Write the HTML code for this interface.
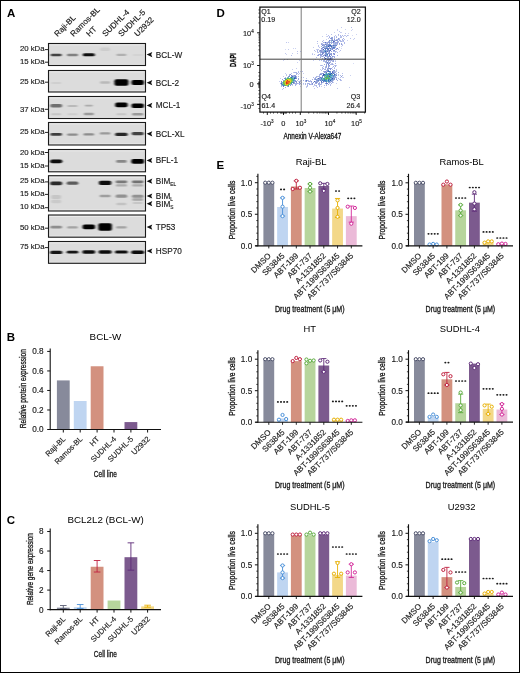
<!DOCTYPE html>
<html><head><meta charset="utf-8"><style>
html,body{margin:0;padding:0;background:#fff;}
body{width:520px;height:673px;overflow:hidden;font-family:"Liberation Sans", sans-serif;}
svg{display:block;will-change:transform;}
svg text{stroke:#1a1a1a;stroke-width:0.15px;}
svg text.t{stroke:none;}
svg text.c{stroke-width:0.32px;}
</style></head><body>
<svg width="520" height="673" viewBox="0 0 520 673" font-family='"Liberation Sans", sans-serif'>
<rect x="0" y="0" width="520" height="673" fill="#fff"/>
<defs><filter id="bb" x="-50%" y="-100%" width="200%" height="300%"><feGaussianBlur stdDeviation="0.9 0.7"/></filter><clipPath id="bc"><rect x="48.5" y="40" width="97" height="230"/></clipPath></defs>
<rect x="48.5" y="43.5" width="97" height="22" fill="#dcdcdc"/>
<rect x="49.3" y="44.3" width="95.4" height="1" fill="#efefef"/>
<rect x="49.3" y="63.9" width="95.4" height="0.8" fill="#e8e8e8"/>
<g filter="url(#bb)">
<rect x="50.7" y="53.7" width="11" height="2.6" rx="1.3" fill="#424242"/>
<rect x="67" y="53.8" width="11" height="2.4" rx="1.2" fill="#808080"/>
<rect x="82.8" y="53.3" width="12" height="3" rx="1.5" fill="#0b0b0b"/>
<rect x="100.1" y="47.55" width="10" height="3.5" rx="1.75" fill="#cdcdcd"/>
<rect x="116.4" y="53.7" width="10" height="2.2" rx="1.1" fill="#b0b0b0"/>
<rect x="132.7" y="54" width="10" height="2" rx="1" fill="#d3d3d3"/>
</g>
<rect x="48.5" y="43.5" width="97" height="22" fill="none" stroke="#1a1a1a" stroke-width="1.1"/>
<line x1="44.8" y1="49.6" x2="48.5" y2="49.6" stroke="#222" stroke-width="1"/>
<text x="44.6" y="50.7" font-size="7.8" text-anchor="end" fill="#1a1a1a">20 kDa</text>
<line x1="44.8" y1="62.2" x2="48.5" y2="62.2" stroke="#222" stroke-width="1"/>
<text x="44.6" y="64.2" font-size="7.8" text-anchor="end" fill="#1a1a1a">15 kDa</text>
<path d="M146.6 54.6 L152.3 52 L151.2 54.6 L152.3 57.2 Z" fill="#111"/>
<text x="155.8" y="57.5" font-size="8.2" fill="#222">BCL-W</text>
<rect x="48.5" y="70.5" width="97" height="21.5" fill="#dcdcdc"/>
<rect x="49.3" y="71.3" width="95.4" height="1" fill="#efefef"/>
<rect x="49.3" y="90.4" width="95.4" height="0.8" fill="#e8e8e8"/>
<g filter="url(#bb)">
<rect x="51.2" y="82" width="10" height="2" rx="1" fill="#cfcfcf"/>
<rect x="100.1" y="81.3" width="10" height="2.4" rx="1.2" fill="#b9b9b9"/>
<rect x="114.4" y="79.15" width="14" height="6.5" rx="2" fill="#000000"/>
<rect x="131.45" y="80" width="12.5" height="5" rx="2" fill="#040404"/>
</g>
<rect x="48.5" y="70.5" width="97" height="21.5" fill="none" stroke="#1a1a1a" stroke-width="1.1"/>
<line x1="44.8" y1="82.2" x2="48.5" y2="82.2" stroke="#222" stroke-width="1"/>
<text x="44.6" y="84.2" font-size="7.8" text-anchor="end" fill="#1a1a1a">25 kDa</text>
<path d="M146.6 82.7 L152.3 80.1 L151.2 82.7 L152.3 85.3 Z" fill="#111"/>
<text x="155.8" y="85.6" font-size="8.2" fill="#222">BCL-2</text>
<rect x="48.5" y="96.5" width="97" height="22" fill="#dcdcdc"/>
<rect x="49.3" y="97.3" width="95.4" height="1" fill="#efefef"/>
<rect x="49.3" y="116.9" width="95.4" height="0.8" fill="#e8e8e8"/>
<g filter="url(#bb)">
<rect x="50.2" y="104" width="12" height="3.6" rx="1.8" fill="#6e6e6e"/>
<rect x="67.5" y="104.9" width="10" height="2.2" rx="1.1" fill="#b9b9b9"/>
<rect x="84.8" y="104.7" width="8" height="1.8" rx="0.9" fill="#acacac"/>
<rect x="115.15" y="102.6" width="12.5" height="4.6" rx="2" fill="#040404"/>
<rect x="131.45" y="103.4" width="12.5" height="4.6" rx="2" fill="#040404"/>
<rect x="51.2" y="113.2" width="10" height="2" rx="1" fill="#c6c6c6"/>
<rect x="67.5" y="113.2" width="10" height="2" rx="1" fill="#cdcdcd"/>
<rect x="83.8" y="112.8" width="10" height="2.4" rx="1.2" fill="#9a9a9a"/>
<rect x="116.4" y="113.2" width="10" height="2" rx="1" fill="#c6c6c6"/>
<rect x="132.2" y="113" width="11" height="2.4" rx="1.2" fill="#9a9a9a"/>
</g>
<rect x="48.5" y="96.5" width="97" height="22" fill="none" stroke="#1a1a1a" stroke-width="1.1"/>
<line x1="44.8" y1="109.3" x2="48.5" y2="109.3" stroke="#222" stroke-width="1"/>
<text x="44.6" y="112.2" font-size="7.8" text-anchor="end" fill="#1a1a1a">37 kDa</text>
<path d="M146.6 105.4 L152.3 102.8 L151.2 105.4 L152.3 108 Z" fill="#111"/>
<text x="155.8" y="108.3" font-size="8.2" fill="#222">MCL-1</text>
<rect x="48.5" y="122.5" width="97" height="22.5" fill="#dcdcdc"/>
<rect x="49.3" y="123.3" width="95.4" height="1" fill="#efefef"/>
<rect x="49.3" y="143.4" width="95.4" height="0.8" fill="#e8e8e8"/>
<g filter="url(#bb)">
<rect x="50.45" y="133" width="11.5" height="2.8" rx="1.4" fill="#3e3e3e"/>
<rect x="67.25" y="133.4" width="10.5" height="2.4" rx="1.2" fill="#8d8d8d"/>
<rect x="83.55" y="133.2" width="10.5" height="2.4" rx="1.2" fill="#8d8d8d"/>
<rect x="99.85" y="132.2" width="10.5" height="2.4" rx="1.2" fill="#9a9a9a"/>
<rect x="115.15" y="132.7" width="12.5" height="3.4" rx="1.7" fill="#282828"/>
<rect x="131.7" y="132" width="12" height="3.2" rx="1.6" fill="#424242"/>
</g>
<rect x="48.5" y="122.5" width="97" height="22.5" fill="none" stroke="#1a1a1a" stroke-width="1.1"/>
<line x1="44.8" y1="132.4" x2="48.5" y2="132.4" stroke="#222" stroke-width="1"/>
<text x="44.6" y="134.4" font-size="7.8" text-anchor="end" fill="#1a1a1a">25 kDa</text>
<path d="M146.6 133.8 L152.3 131.2 L151.2 133.8 L152.3 136.4 Z" fill="#111"/>
<text x="155.8" y="136.7" font-size="8.2" fill="#222">BCL-XL</text>
<rect x="48.5" y="149.5" width="97" height="22.3" fill="#dcdcdc"/>
<rect x="49.3" y="150.3" width="95.4" height="1" fill="#efefef"/>
<rect x="49.3" y="170.2" width="95.4" height="0.8" fill="#e8e8e8"/>
<g filter="url(#bb)">
<rect x="50.2" y="159.4" width="12" height="3.8" rx="1.9" fill="#070707"/>
<rect x="116.15" y="160" width="10.5" height="2.8" rx="1.4" fill="#888888"/>
<rect x="131.3" y="158.9" width="12.8" height="4.8" rx="2" fill="#000000"/>
</g>
<rect x="48.5" y="149.5" width="97" height="22.3" fill="none" stroke="#1a1a1a" stroke-width="1.1"/>
<line x1="44.8" y1="152.5" x2="48.5" y2="152.5" stroke="#222" stroke-width="1"/>
<text x="44.6" y="155" font-size="7.8" text-anchor="end" fill="#1a1a1a">20 kDa</text>
<line x1="44.8" y1="166" x2="48.5" y2="166" stroke="#222" stroke-width="1"/>
<text x="44.6" y="168.4" font-size="7.8" text-anchor="end" fill="#1a1a1a">15 kDa</text>
<path d="M146.6 160.4 L152.3 157.8 L151.2 160.4 L152.3 163 Z" fill="#111"/>
<text x="155.8" y="163.3" font-size="8.2" fill="#222">BFL-1</text>
<rect x="48.5" y="175.7" width="97" height="35.3" fill="#dcdcdc"/>
<rect x="49.3" y="176.5" width="95.4" height="1" fill="#efefef"/>
<rect x="49.3" y="209.4" width="95.4" height="0.8" fill="#e8e8e8"/>
<g filter="url(#bb)">
<rect x="50.2" y="181.6" width="12" height="3.6" rx="1.8" fill="#2c2c2c"/>
<rect x="66.75" y="181.6" width="11.5" height="3.2" rx="1.6" fill="#5c5c5c"/>
<rect x="98.85" y="180.7" width="12.5" height="4.2" rx="2" fill="#070707"/>
<rect x="115.65" y="180.4" width="11.5" height="2.8" rx="1.4" fill="#797979"/>
<rect x="131.95" y="180.4" width="11.5" height="2.8" rx="1.4" fill="#727272"/>
<rect x="115.9" y="184.2" width="11" height="2.4" rx="1.2" fill="#acacac"/>
<rect x="132.2" y="184.2" width="11" height="2.4" rx="1.2" fill="#acacac"/>
<rect x="51.2" y="195" width="10" height="4" rx="2" fill="#c6c6c6"/>
<rect x="99.6" y="194.7" width="11" height="2.6" rx="1.3" fill="#9e9e9e"/>
<rect x="115.65" y="194.6" width="11.5" height="3.2" rx="1.6" fill="#919191"/>
<rect x="131.95" y="194.7" width="11.5" height="3" rx="1.5" fill="#919191"/>
<rect x="51.2" y="199.75" width="10" height="3.5" rx="1.75" fill="#cacaca"/>
<rect x="116.4" y="202.8" width="10" height="2.4" rx="1.2" fill="#c2c2c2"/>
<rect x="132.2" y="198.2" width="11" height="2.6" rx="1.3" fill="#a7a7a7"/>
<rect x="132.7" y="202" width="10" height="2" rx="1" fill="#c6c6c6"/>
</g>
<rect x="48.5" y="175.7" width="97" height="35.3" fill="none" stroke="#1a1a1a" stroke-width="1.1"/>
<line x1="44.8" y1="181.9" x2="48.5" y2="181.9" stroke="#222" stroke-width="1"/>
<text x="44.6" y="183.3" font-size="7.8" text-anchor="end" fill="#1a1a1a">25 kDa</text>
<line x1="44.8" y1="194.4" x2="48.5" y2="194.4" stroke="#222" stroke-width="1"/>
<text x="44.6" y="196.3" font-size="7.8" text-anchor="end" fill="#1a1a1a">15 kDa</text>
<line x1="44.8" y1="207.7" x2="48.5" y2="207.7" stroke="#222" stroke-width="1"/>
<text x="44.6" y="209.2" font-size="7.8" text-anchor="end" fill="#1a1a1a">10 kDa</text>
<path d="M146.6 181.2 L152.3 178.6 L151.2 181.2 L152.3 183.8 Z" fill="#111"/>
<text x="155.8" y="184.1" font-size="8.2" fill="#222">BIM<tspan font-size="4.8" dy="2.2">EL</tspan></text>
<path d="M146.6 196 L152.3 193.4 L151.2 196 L152.3 198.6 Z" fill="#111"/>
<text x="155.8" y="198.9" font-size="8.2" fill="#222">BIM<tspan font-size="4.8" dy="2.2">L</tspan></text>
<path d="M146.6 203.7 L152.3 201.1 L151.2 203.7 L152.3 206.3 Z" fill="#111"/>
<text x="155.8" y="206.6" font-size="8.2" fill="#222">BIM<tspan font-size="4.8" dy="2.2">S</tspan></text>
<rect x="48.5" y="215" width="97" height="22.2" fill="#dcdcdc"/>
<rect x="49.3" y="215.8" width="95.4" height="1" fill="#efefef"/>
<rect x="49.3" y="235.6" width="95.4" height="0.8" fill="#e8e8e8"/>
<g filter="url(#bb)">
<rect x="50.45" y="225.8" width="11.5" height="2.8" rx="1.4" fill="#8d8d8d"/>
<rect x="67.25" y="226.2" width="10.5" height="2.4" rx="1.2" fill="#a3a3a3"/>
<rect x="82.55" y="224.5" width="12.5" height="4.8" rx="2" fill="#040404"/>
<rect x="98.35" y="223.2" width="13.5" height="7.6" rx="2" fill="#000000"/>
<rect x="116.15" y="226.3" width="10.5" height="2.2" rx="1.1" fill="#a3a3a3"/>
</g>
<rect x="48.5" y="215" width="97" height="22.2" fill="none" stroke="#1a1a1a" stroke-width="1.1"/>
<line x1="44.8" y1="228.2" x2="48.5" y2="228.2" stroke="#222" stroke-width="1"/>
<text x="44.6" y="229.9" font-size="7.8" text-anchor="end" fill="#1a1a1a">50 kDa</text>
<path d="M146.6 227.1 L152.3 224.5 L151.2 227.1 L152.3 229.7 Z" fill="#111"/>
<text x="155.8" y="230" font-size="8.2" fill="#222">TP53</text>
<rect x="48.5" y="241.5" width="97" height="21.8" fill="#dcdcdc"/>
<rect x="49.3" y="242.3" width="95.4" height="1" fill="#efefef"/>
<rect x="49.3" y="261.7" width="95.4" height="0.8" fill="#e8e8e8"/>
<g filter="url(#bb)">
<rect x="50.2" y="250.8" width="12" height="3.2" rx="1.6" fill="#121212"/>
<rect x="66.75" y="250.8" width="11.5" height="2.8" rx="1.4" fill="#161616"/>
<rect x="82.4" y="250.3" width="12.8" height="3.4" rx="1.7" fill="#0b0b0b"/>
<rect x="98.6" y="250.3" width="13" height="3.4" rx="1.7" fill="#0b0b0b"/>
<rect x="115" y="250.4" width="12.8" height="3.2" rx="1.6" fill="#0f0f0f"/>
<rect x="131.3" y="250.5" width="12.8" height="3.4" rx="1.7" fill="#0b0b0b"/>
</g>
<rect x="48.5" y="241.5" width="97" height="21.8" fill="none" stroke="#1a1a1a" stroke-width="1.1"/>
<line x1="44.8" y1="247.6" x2="48.5" y2="247.6" stroke="#222" stroke-width="1"/>
<text x="44.6" y="249.4" font-size="7.8" text-anchor="end" fill="#1a1a1a">75 kDa</text>
<path d="M146.6 251 L152.3 248.4 L151.2 251 L152.3 253.6 Z" fill="#111"/>
<text x="155.8" y="253.9" font-size="8.2" fill="#222">HSP70</text>
<text transform="translate(57.6 37) rotate(-45)" font-size="8" fill="#1a1a1a">Raji-BL</text>
<text transform="translate(73.6 37) rotate(-45)" font-size="8" fill="#1a1a1a">Ramos-BL</text>
<text transform="translate(89.6 37) rotate(-45)" font-size="8" fill="#1a1a1a">HT</text>
<text transform="translate(105.6 37) rotate(-45)" font-size="8" fill="#1a1a1a">SUDHL-4</text>
<text transform="translate(121.6 37) rotate(-45)" font-size="8" fill="#1a1a1a">SUDHL-5</text>
<text transform="translate(137.6 37) rotate(-45)" font-size="8" fill="#1a1a1a">U2932</text>
<text x="7" y="17" font-size="11.5" font-weight="bold" fill="#000" class="t">A</text>
<text x="6.8" y="340.6" font-size="11.5" font-weight="bold" fill="#000" class="t">B</text>
<text x="6.8" y="524.4" font-size="11.5" font-weight="bold" fill="#000" class="t">C</text>
<text x="216.4" y="16.7" font-size="11.5" font-weight="bold" fill="#000" class="t">D</text>
<text x="216.6" y="168.5" font-size="11.5" font-weight="bold" fill="#000" class="t">E</text>
<rect x="56.9" y="380.41" width="12.8" height="49.09" fill="#878a9b"/>
<rect x="73.8" y="401" width="12.8" height="28.5" fill="#bfd5f1"/>
<rect x="90.7" y="366.26" width="12.8" height="63.24" fill="#d3917f"/>
<rect x="124.5" y="422.08" width="12.8" height="7.42" fill="#7c5a8e"/>
<line x1="50.2" y1="348.5" x2="50.2" y2="430.05" stroke="#111" stroke-width="1.1"/>
<line x1="49.65" y1="429.5" x2="161" y2="429.5" stroke="#111" stroke-width="1.1"/>
<line x1="47.2" y1="351.42" x2="50.2" y2="351.42" stroke="#111" stroke-width="1"/>
<text x="43.6" y="354.32" font-size="8.2" text-anchor="end" fill="#1a1a1a">0.8</text>
<line x1="47.2" y1="370.94" x2="50.2" y2="370.94" stroke="#111" stroke-width="1"/>
<text x="43.6" y="373.84" font-size="8.2" text-anchor="end" fill="#1a1a1a">0.6</text>
<line x1="47.2" y1="390.46" x2="50.2" y2="390.46" stroke="#111" stroke-width="1"/>
<text x="43.6" y="393.36" font-size="8.2" text-anchor="end" fill="#1a1a1a">0.4</text>
<line x1="47.2" y1="409.98" x2="50.2" y2="409.98" stroke="#111" stroke-width="1"/>
<text x="43.6" y="412.88" font-size="8.2" text-anchor="end" fill="#1a1a1a">0.2</text>
<line x1="47.2" y1="429.5" x2="50.2" y2="429.5" stroke="#111" stroke-width="1"/>
<text x="43.6" y="432.4" font-size="8.2" text-anchor="end" fill="#1a1a1a">0.0</text>
<line x1="63.3" y1="429.5" x2="63.3" y2="432.5" stroke="#111" stroke-width="1"/>
<line x1="80.2" y1="429.5" x2="80.2" y2="432.5" stroke="#111" stroke-width="1"/>
<line x1="97.1" y1="429.5" x2="97.1" y2="432.5" stroke="#111" stroke-width="1"/>
<line x1="114" y1="429.5" x2="114" y2="432.5" stroke="#111" stroke-width="1"/>
<line x1="130.9" y1="429.5" x2="130.9" y2="432.5" stroke="#111" stroke-width="1"/>
<line x1="147.6" y1="429.5" x2="147.6" y2="432.5" stroke="#111" stroke-width="1"/>
<text transform="translate(66.1 439.5) rotate(-45)" font-size="7.6" text-anchor="end" fill="#1a1a1a">Raji-BL</text>
<text transform="translate(83 439.5) rotate(-45)" font-size="7.6" text-anchor="end" fill="#1a1a1a">Ramos-BL</text>
<text transform="translate(99.9 439.5) rotate(-45)" font-size="7.6" text-anchor="end" fill="#1a1a1a">HT</text>
<text transform="translate(116.8 439.5) rotate(-45)" font-size="7.6" text-anchor="end" fill="#1a1a1a">SUDHL-4</text>
<text transform="translate(133.7 439.5) rotate(-45)" font-size="7.6" text-anchor="end" fill="#1a1a1a">SUDHL-5</text>
<text transform="translate(150.4 439.5) rotate(-45)" font-size="7.6" text-anchor="end" fill="#1a1a1a">U2932</text>
<text x="105.4" y="339.6" font-size="9.8" text-anchor="middle" class="t">BCL-W</text>
<text transform="translate(26.1 388.7) rotate(-90)" font-size="8.6" text-anchor="middle" fill="#1a1a1a" textLength="79" lengthAdjust="spacingAndGlyphs" class="c">Relative protein expression</text>
<text x="105.4" y="477" font-size="8.6" text-anchor="middle" fill="#1a1a1a" textLength="23.2" lengthAdjust="spacingAndGlyphs" class="c">Cell line</text>
<rect x="56.9" y="607.65" width="12.8" height="1.95" fill="#878a9b"/>
<rect x="73.8" y="607.26" width="12.8" height="2.34" fill="#bfd5f1"/>
<rect x="90.7" y="566.75" width="12.8" height="42.85" fill="#d3917f"/>
<rect x="107.6" y="600.52" width="12.8" height="9.08" fill="#b7d59c"/>
<rect x="124.5" y="557.19" width="12.8" height="52.41" fill="#7c5a8e"/>
<rect x="141.2" y="606.38" width="12.8" height="3.22" fill="#f3d888"/>
<line x1="63.3" y1="605.5" x2="63.3" y2="608.62" stroke="#5b5f75" stroke-width="0.9"/>
<line x1="60" y1="605.5" x2="66.6" y2="605.5" stroke="#5b5f75" stroke-width="0.9"/>
<line x1="60" y1="608.62" x2="66.6" y2="608.62" stroke="#5b5f75" stroke-width="0.9"/>
<line x1="80.2" y1="604.52" x2="80.2" y2="608.43" stroke="#4a90d9" stroke-width="0.9"/>
<line x1="76.9" y1="604.52" x2="83.5" y2="604.52" stroke="#4a90d9" stroke-width="0.9"/>
<line x1="76.9" y1="608.43" x2="83.5" y2="608.43" stroke="#4a90d9" stroke-width="0.9"/>
<line x1="97.1" y1="560.51" x2="97.1" y2="572.02" stroke="#c0203f" stroke-width="0.9"/>
<line x1="93.8" y1="560.51" x2="100.4" y2="560.51" stroke="#c0203f" stroke-width="0.9"/>
<line x1="93.8" y1="572.02" x2="100.4" y2="572.02" stroke="#c0203f" stroke-width="0.9"/>
<line x1="130.9" y1="542.84" x2="130.9" y2="570.17" stroke="#5e2a78" stroke-width="0.9"/>
<line x1="127.6" y1="542.84" x2="134.2" y2="542.84" stroke="#5e2a78" stroke-width="0.9"/>
<line x1="127.6" y1="570.17" x2="134.2" y2="570.17" stroke="#5e2a78" stroke-width="0.9"/>
<line x1="147.6" y1="605.21" x2="147.6" y2="607.16" stroke="#e8b000" stroke-width="0.9"/>
<line x1="144.3" y1="605.21" x2="150.9" y2="605.21" stroke="#e8b000" stroke-width="0.9"/>
<line x1="144.3" y1="607.16" x2="150.9" y2="607.16" stroke="#e8b000" stroke-width="0.9"/>
<line x1="50.2" y1="528.5" x2="50.2" y2="610.15" stroke="#111" stroke-width="1.1"/>
<line x1="49.65" y1="609.6" x2="161" y2="609.6" stroke="#111" stroke-width="1.1"/>
<line x1="47.2" y1="531.52" x2="50.2" y2="531.52" stroke="#111" stroke-width="1"/>
<text x="43.6" y="534.42" font-size="8.2" text-anchor="end" fill="#1a1a1a">8</text>
<line x1="47.2" y1="551.04" x2="50.2" y2="551.04" stroke="#111" stroke-width="1"/>
<text x="43.6" y="553.94" font-size="8.2" text-anchor="end" fill="#1a1a1a">6</text>
<line x1="47.2" y1="570.56" x2="50.2" y2="570.56" stroke="#111" stroke-width="1"/>
<text x="43.6" y="573.46" font-size="8.2" text-anchor="end" fill="#1a1a1a">4</text>
<line x1="47.2" y1="590.08" x2="50.2" y2="590.08" stroke="#111" stroke-width="1"/>
<text x="43.6" y="592.98" font-size="8.2" text-anchor="end" fill="#1a1a1a">2</text>
<line x1="47.2" y1="609.6" x2="50.2" y2="609.6" stroke="#111" stroke-width="1"/>
<text x="43.6" y="612.5" font-size="8.2" text-anchor="end" fill="#1a1a1a">0</text>
<line x1="63.3" y1="609.6" x2="63.3" y2="612.6" stroke="#111" stroke-width="1"/>
<line x1="80.2" y1="609.6" x2="80.2" y2="612.6" stroke="#111" stroke-width="1"/>
<line x1="97.1" y1="609.6" x2="97.1" y2="612.6" stroke="#111" stroke-width="1"/>
<line x1="114" y1="609.6" x2="114" y2="612.6" stroke="#111" stroke-width="1"/>
<line x1="130.9" y1="609.6" x2="130.9" y2="612.6" stroke="#111" stroke-width="1"/>
<line x1="147.6" y1="609.6" x2="147.6" y2="612.6" stroke="#111" stroke-width="1"/>
<text transform="translate(66.1 619.6) rotate(-45)" font-size="7.6" text-anchor="end" fill="#1a1a1a">Raji-BL</text>
<text transform="translate(83 619.6) rotate(-45)" font-size="7.6" text-anchor="end" fill="#1a1a1a">Ramos-BL</text>
<text transform="translate(99.9 619.6) rotate(-45)" font-size="7.6" text-anchor="end" fill="#1a1a1a">HT</text>
<text transform="translate(116.8 619.6) rotate(-45)" font-size="7.6" text-anchor="end" fill="#1a1a1a">SUDHL-4</text>
<text transform="translate(133.7 619.6) rotate(-45)" font-size="7.6" text-anchor="end" fill="#1a1a1a">SUDHL-5</text>
<text transform="translate(150.4 619.6) rotate(-45)" font-size="7.6" text-anchor="end" fill="#1a1a1a">U2932</text>
<text x="105.6" y="523.3" font-size="9.8" text-anchor="middle" class="t">BCL2L2 (BCL-W)</text>
<text transform="translate(32.7 569.1) rotate(-90)" font-size="8.6" text-anchor="middle" fill="#1a1a1a" textLength="72" lengthAdjust="spacingAndGlyphs" class="c">Relative gene expression</text>
<text x="105.4" y="657" font-size="8.6" text-anchor="middle" fill="#1a1a1a" textLength="23.2" lengthAdjust="spacingAndGlyphs" class="c">Cell line</text>
<rect x="263.4" y="182.7" width="10.8" height="63.1" fill="#878a9b"/>
<rect x="277.15" y="206.99" width="10.8" height="38.81" fill="#bfd5f1"/>
<rect x="290.9" y="186.49" width="10.8" height="59.31" fill="#d3917f"/>
<rect x="304.65" y="188" width="10.8" height="57.8" fill="#b7d59c"/>
<rect x="318.4" y="185.98" width="10.8" height="59.82" fill="#7c5a8e"/>
<rect x="332.15" y="208.57" width="10.8" height="37.23" fill="#f3d888"/>
<rect x="345.9" y="216.14" width="10.8" height="29.66" fill="#ebbad8"/>
<circle cx="265.2" cy="182.7" r="1.6" fill="#fff" stroke="#4b4f69" stroke-width="1.0"/>
<circle cx="268.8" cy="182.7" r="1.6" fill="#fff" stroke="#4b4f69" stroke-width="1.0"/>
<circle cx="272.4" cy="182.7" r="1.6" fill="#fff" stroke="#4b4f69" stroke-width="1.0"/>
<line x1="282.55" y1="197.84" x2="282.55" y2="216.14" stroke="#4a90d9" stroke-width="0.9"/>
<line x1="279.95" y1="197.84" x2="285.15" y2="197.84" stroke="#4a90d9" stroke-width="0.9"/>
<line x1="279.95" y1="216.14" x2="285.15" y2="216.14" stroke="#4a90d9" stroke-width="0.9"/>
<circle cx="282.55" cy="197.84" r="1.6" fill="#fff" stroke="#4a90d9" stroke-width="1.0"/>
<circle cx="282.55" cy="206.68" r="1.6" fill="#fff" stroke="#4a90d9" stroke-width="1.0"/>
<circle cx="282.55" cy="216.14" r="1.6" fill="#fff" stroke="#4a90d9" stroke-width="1.0"/>
<ellipse cx="281" cy="189.4" rx="1.05" ry="0.85" fill="#1a1a1a"/>
<ellipse cx="284.1" cy="189.4" rx="1.05" ry="0.85" fill="#1a1a1a"/>
<line x1="296.3" y1="180.81" x2="296.3" y2="189.01" stroke="#c0203f" stroke-width="0.9"/>
<line x1="293.7" y1="180.81" x2="298.9" y2="180.81" stroke="#c0203f" stroke-width="0.9"/>
<line x1="293.7" y1="189.01" x2="298.9" y2="189.01" stroke="#c0203f" stroke-width="0.9"/>
<circle cx="292.7" cy="189.01" r="1.6" fill="#fff" stroke="#c0203f" stroke-width="1.0"/>
<circle cx="296.3" cy="180.81" r="1.6" fill="#fff" stroke="#c0203f" stroke-width="1.0"/>
<circle cx="299.9" cy="187.75" r="1.6" fill="#fff" stroke="#c0203f" stroke-width="1.0"/>
<line x1="310.05" y1="183.96" x2="310.05" y2="191.53" stroke="#5aaa3c" stroke-width="0.9"/>
<line x1="307.45" y1="183.96" x2="312.65" y2="183.96" stroke="#5aaa3c" stroke-width="0.9"/>
<line x1="307.45" y1="191.53" x2="312.65" y2="191.53" stroke="#5aaa3c" stroke-width="0.9"/>
<circle cx="310.05" cy="183.96" r="1.6" fill="#fff" stroke="#5aaa3c" stroke-width="1.0"/>
<circle cx="310.05" cy="187.75" r="1.6" fill="#fff" stroke="#5aaa3c" stroke-width="1.0"/>
<circle cx="310.05" cy="191.53" r="1.6" fill="#fff" stroke="#5aaa3c" stroke-width="1.0"/>
<line x1="323.8" y1="183.33" x2="323.8" y2="189.01" stroke="#5e2a78" stroke-width="0.9"/>
<line x1="321.2" y1="183.33" x2="326.4" y2="183.33" stroke="#5e2a78" stroke-width="0.9"/>
<line x1="321.2" y1="189.01" x2="326.4" y2="189.01" stroke="#5e2a78" stroke-width="0.9"/>
<circle cx="320.2" cy="183.33" r="1.6" fill="#fff" stroke="#5e2a78" stroke-width="1.0"/>
<circle cx="327.4" cy="183.96" r="1.6" fill="#fff" stroke="#5e2a78" stroke-width="1.0"/>
<circle cx="323.8" cy="190.9" r="1.6" fill="#fff" stroke="#5e2a78" stroke-width="1.0"/>
<line x1="337.55" y1="198.47" x2="337.55" y2="217.41" stroke="#e8b000" stroke-width="0.9"/>
<line x1="334.95" y1="198.47" x2="340.15" y2="198.47" stroke="#e8b000" stroke-width="0.9"/>
<line x1="334.95" y1="217.41" x2="340.15" y2="217.41" stroke="#e8b000" stroke-width="0.9"/>
<circle cx="337.55" cy="200.37" r="1.6" fill="#fff" stroke="#e8b000" stroke-width="1.0"/>
<circle cx="337.55" cy="207.94" r="1.6" fill="#fff" stroke="#e8b000" stroke-width="1.0"/>
<circle cx="337.55" cy="216.77" r="1.6" fill="#fff" stroke="#e8b000" stroke-width="1.0"/>
<ellipse cx="336" cy="191" rx="1.05" ry="0.85" fill="#1a1a1a"/>
<ellipse cx="339.1" cy="191" rx="1.05" ry="0.85" fill="#1a1a1a"/>
<line x1="351.3" y1="206.05" x2="351.3" y2="222.14" stroke="#d4289a" stroke-width="0.9"/>
<line x1="348.7" y1="206.05" x2="353.9" y2="206.05" stroke="#d4289a" stroke-width="0.9"/>
<line x1="348.7" y1="222.14" x2="353.9" y2="222.14" stroke="#d4289a" stroke-width="0.9"/>
<circle cx="347.7" cy="206.68" r="1.6" fill="#fff" stroke="#d4289a" stroke-width="1.0"/>
<circle cx="354.9" cy="207.94" r="1.6" fill="#fff" stroke="#d4289a" stroke-width="1.0"/>
<circle cx="351.3" cy="223.72" r="1.6" fill="#fff" stroke="#d4289a" stroke-width="1.0"/>
<ellipse cx="348.2" cy="198.3" rx="1.05" ry="0.85" fill="#1a1a1a"/>
<ellipse cx="351.3" cy="198.3" rx="1.05" ry="0.85" fill="#1a1a1a"/>
<ellipse cx="354.4" cy="198.3" rx="1.05" ry="0.85" fill="#1a1a1a"/>
<line x1="257.9" y1="173.7" x2="257.9" y2="246.35" stroke="#111" stroke-width="1.15"/>
<line x1="255.3" y1="245.8" x2="362.4" y2="245.8" stroke="#111" stroke-width="1.15"/>
<line x1="254.9" y1="245.8" x2="257.9" y2="245.8" stroke="#111" stroke-width="1"/>
<line x1="256.3" y1="239.49" x2="257.9" y2="239.49" stroke="#111" stroke-width="0.8"/>
<line x1="256.3" y1="233.18" x2="257.9" y2="233.18" stroke="#111" stroke-width="0.8"/>
<line x1="256.3" y1="226.87" x2="257.9" y2="226.87" stroke="#111" stroke-width="0.8"/>
<line x1="256.3" y1="220.56" x2="257.9" y2="220.56" stroke="#111" stroke-width="0.8"/>
<line x1="254.9" y1="214.25" x2="257.9" y2="214.25" stroke="#111" stroke-width="1"/>
<line x1="256.3" y1="207.94" x2="257.9" y2="207.94" stroke="#111" stroke-width="0.8"/>
<line x1="256.3" y1="201.63" x2="257.9" y2="201.63" stroke="#111" stroke-width="0.8"/>
<line x1="256.3" y1="195.32" x2="257.9" y2="195.32" stroke="#111" stroke-width="0.8"/>
<line x1="256.3" y1="189.01" x2="257.9" y2="189.01" stroke="#111" stroke-width="0.8"/>
<line x1="254.9" y1="182.7" x2="257.9" y2="182.7" stroke="#111" stroke-width="1"/>
<line x1="256.3" y1="176.39" x2="257.9" y2="176.39" stroke="#111" stroke-width="0.8"/>
<text x="252.2" y="185.6" font-size="8.2" text-anchor="end" fill="#1a1a1a">1.0</text>
<text x="252.2" y="217.15" font-size="8.2" text-anchor="end" fill="#1a1a1a">0.5</text>
<text x="252.2" y="248.7" font-size="8.2" text-anchor="end" fill="#1a1a1a">0.0</text>
<line x1="268.8" y1="245.8" x2="268.8" y2="248.4" stroke="#111" stroke-width="0.9"/>
<line x1="282.55" y1="245.8" x2="282.55" y2="248.4" stroke="#111" stroke-width="0.9"/>
<line x1="296.3" y1="245.8" x2="296.3" y2="248.4" stroke="#111" stroke-width="0.9"/>
<line x1="310.05" y1="245.8" x2="310.05" y2="248.4" stroke="#111" stroke-width="0.9"/>
<line x1="323.8" y1="245.8" x2="323.8" y2="248.4" stroke="#111" stroke-width="0.9"/>
<line x1="337.55" y1="245.8" x2="337.55" y2="248.4" stroke="#111" stroke-width="0.9"/>
<line x1="351.3" y1="245.8" x2="351.3" y2="248.4" stroke="#111" stroke-width="0.9"/>
<text transform="translate(271.4 256.3) rotate(-45)" font-size="8.1" text-anchor="end" fill="#1a1a1a">DMSO</text>
<text transform="translate(285.15 256.3) rotate(-45)" font-size="8.1" text-anchor="end" fill="#1a1a1a">S63845</text>
<text transform="translate(298.9 256.3) rotate(-45)" font-size="8.1" text-anchor="end" fill="#1a1a1a">ABT-199</text>
<text transform="translate(312.65 256.3) rotate(-45)" font-size="8.1" text-anchor="end" fill="#1a1a1a">ABT-737</text>
<text transform="translate(326.4 256.3) rotate(-45)" font-size="8.1" text-anchor="end" fill="#1a1a1a">A-1331852</text>
<text transform="translate(340.15 256.3) rotate(-45)" font-size="8.1" text-anchor="end" fill="#1a1a1a">ABT-199/S63845</text>
<text transform="translate(353.9 256.3) rotate(-45)" font-size="8.1" text-anchor="end" fill="#1a1a1a">ABT-737/S63845</text>
<text x="311.1" y="165.3" font-size="9.4" text-anchor="middle" class="t">Raji-BL</text>
<text transform="translate(234.7 209.95) rotate(-90)" font-size="8.6" text-anchor="middle" fill="#1a1a1a" textLength="58.8" lengthAdjust="spacingAndGlyphs" class="c">Proportion live cells</text>
<text x="309.8" y="312.3" font-size="8.6" text-anchor="middle" fill="#1a1a1a" textLength="69.6" lengthAdjust="spacingAndGlyphs" class="c">Drug treatment (5 &#956;M)</text>
<rect x="414" y="182.8" width="10.8" height="63" fill="#878a9b"/>
<rect x="427.75" y="244.54" width="10.8" height="1.26" fill="#bfd5f1"/>
<rect x="441.5" y="184.38" width="10.8" height="61.42" fill="#d3917f"/>
<rect x="455.25" y="210.33" width="10.8" height="35.47" fill="#b7d59c"/>
<rect x="469" y="202.65" width="10.8" height="43.16" fill="#7c5a8e"/>
<rect x="482.75" y="242.02" width="10.8" height="3.78" fill="#f3d888"/>
<rect x="496.5" y="243.91" width="10.8" height="1.89" fill="#ebbad8"/>
<circle cx="415.8" cy="182.8" r="1.6" fill="#fff" stroke="#4b4f69" stroke-width="1.0"/>
<circle cx="419.4" cy="182.8" r="1.6" fill="#fff" stroke="#4b4f69" stroke-width="1.0"/>
<circle cx="423" cy="182.8" r="1.6" fill="#fff" stroke="#4b4f69" stroke-width="1.0"/>
<circle cx="429.55" cy="244.54" r="1.6" fill="#fff" stroke="#4a90d9" stroke-width="1.0"/>
<circle cx="433.15" cy="243.91" r="1.6" fill="#fff" stroke="#4a90d9" stroke-width="1.0"/>
<circle cx="436.75" cy="244.54" r="1.6" fill="#fff" stroke="#4a90d9" stroke-width="1.0"/>
<ellipse cx="428.5" cy="233.8" rx="1.05" ry="0.85" fill="#1a1a1a"/>
<ellipse cx="431.6" cy="233.8" rx="1.05" ry="0.85" fill="#1a1a1a"/>
<ellipse cx="434.7" cy="233.8" rx="1.05" ry="0.85" fill="#1a1a1a"/>
<ellipse cx="437.8" cy="233.8" rx="1.05" ry="0.85" fill="#1a1a1a"/>
<circle cx="443.3" cy="184.69" r="1.6" fill="#fff" stroke="#c0203f" stroke-width="1.0"/>
<circle cx="446.9" cy="181.54" r="1.6" fill="#fff" stroke="#c0203f" stroke-width="1.0"/>
<circle cx="450.5" cy="184.69" r="1.6" fill="#fff" stroke="#c0203f" stroke-width="1.0"/>
<line x1="460.65" y1="204.85" x2="460.65" y2="215.56" stroke="#5aaa3c" stroke-width="0.9"/>
<line x1="458.05" y1="204.85" x2="463.25" y2="204.85" stroke="#5aaa3c" stroke-width="0.9"/>
<line x1="458.05" y1="215.56" x2="463.25" y2="215.56" stroke="#5aaa3c" stroke-width="0.9"/>
<circle cx="460.65" cy="204.85" r="1.6" fill="#fff" stroke="#5aaa3c" stroke-width="1.0"/>
<circle cx="460.65" cy="210.52" r="1.6" fill="#fff" stroke="#5aaa3c" stroke-width="1.0"/>
<circle cx="460.65" cy="215.56" r="1.6" fill="#fff" stroke="#5aaa3c" stroke-width="1.0"/>
<ellipse cx="456" cy="198" rx="1.05" ry="0.85" fill="#1a1a1a"/>
<ellipse cx="459.1" cy="198" rx="1.05" ry="0.85" fill="#1a1a1a"/>
<ellipse cx="462.2" cy="198" rx="1.05" ry="0.85" fill="#1a1a1a"/>
<ellipse cx="465.3" cy="198" rx="1.05" ry="0.85" fill="#1a1a1a"/>
<line x1="474.4" y1="194.14" x2="474.4" y2="211.15" stroke="#5e2a78" stroke-width="0.9"/>
<line x1="471.8" y1="194.14" x2="477" y2="194.14" stroke="#5e2a78" stroke-width="0.9"/>
<line x1="471.8" y1="211.15" x2="477" y2="211.15" stroke="#5e2a78" stroke-width="0.9"/>
<circle cx="474.4" cy="192.25" r="1.6" fill="#fff" stroke="#5e2a78" stroke-width="1.0"/>
<circle cx="474.4" cy="203.59" r="1.6" fill="#fff" stroke="#5e2a78" stroke-width="1.0"/>
<circle cx="474.4" cy="209.26" r="1.6" fill="#fff" stroke="#5e2a78" stroke-width="1.0"/>
<ellipse cx="469.75" cy="187.5" rx="1.05" ry="0.85" fill="#1a1a1a"/>
<ellipse cx="472.85" cy="187.5" rx="1.05" ry="0.85" fill="#1a1a1a"/>
<ellipse cx="475.95" cy="187.5" rx="1.05" ry="0.85" fill="#1a1a1a"/>
<ellipse cx="479.05" cy="187.5" rx="1.05" ry="0.85" fill="#1a1a1a"/>
<circle cx="484.55" cy="242.65" r="1.6" fill="#fff" stroke="#e8b000" stroke-width="1.0"/>
<circle cx="488.15" cy="241.39" r="1.6" fill="#fff" stroke="#e8b000" stroke-width="1.0"/>
<circle cx="491.75" cy="241.39" r="1.6" fill="#fff" stroke="#e8b000" stroke-width="1.0"/>
<ellipse cx="483.5" cy="231.9" rx="1.05" ry="0.85" fill="#1a1a1a"/>
<ellipse cx="486.6" cy="231.9" rx="1.05" ry="0.85" fill="#1a1a1a"/>
<ellipse cx="489.7" cy="231.9" rx="1.05" ry="0.85" fill="#1a1a1a"/>
<ellipse cx="492.8" cy="231.9" rx="1.05" ry="0.85" fill="#1a1a1a"/>
<circle cx="498.3" cy="244.23" r="1.6" fill="#fff" stroke="#d4289a" stroke-width="1.0"/>
<circle cx="501.9" cy="243.59" r="1.6" fill="#fff" stroke="#d4289a" stroke-width="1.0"/>
<circle cx="505.5" cy="243.91" r="1.6" fill="#fff" stroke="#d4289a" stroke-width="1.0"/>
<ellipse cx="497.25" cy="238" rx="1.05" ry="0.85" fill="#1a1a1a"/>
<ellipse cx="500.35" cy="238" rx="1.05" ry="0.85" fill="#1a1a1a"/>
<ellipse cx="503.45" cy="238" rx="1.05" ry="0.85" fill="#1a1a1a"/>
<ellipse cx="506.55" cy="238" rx="1.05" ry="0.85" fill="#1a1a1a"/>
<line x1="408.5" y1="173.8" x2="408.5" y2="246.35" stroke="#111" stroke-width="1.15"/>
<line x1="405.9" y1="245.8" x2="513" y2="245.8" stroke="#111" stroke-width="1.15"/>
<line x1="405.5" y1="245.8" x2="408.5" y2="245.8" stroke="#111" stroke-width="1"/>
<line x1="406.9" y1="239.5" x2="408.5" y2="239.5" stroke="#111" stroke-width="0.8"/>
<line x1="406.9" y1="233.2" x2="408.5" y2="233.2" stroke="#111" stroke-width="0.8"/>
<line x1="406.9" y1="226.9" x2="408.5" y2="226.9" stroke="#111" stroke-width="0.8"/>
<line x1="406.9" y1="220.6" x2="408.5" y2="220.6" stroke="#111" stroke-width="0.8"/>
<line x1="405.5" y1="214.3" x2="408.5" y2="214.3" stroke="#111" stroke-width="1"/>
<line x1="406.9" y1="208" x2="408.5" y2="208" stroke="#111" stroke-width="0.8"/>
<line x1="406.9" y1="201.7" x2="408.5" y2="201.7" stroke="#111" stroke-width="0.8"/>
<line x1="406.9" y1="195.4" x2="408.5" y2="195.4" stroke="#111" stroke-width="0.8"/>
<line x1="406.9" y1="189.1" x2="408.5" y2="189.1" stroke="#111" stroke-width="0.8"/>
<line x1="405.5" y1="182.8" x2="408.5" y2="182.8" stroke="#111" stroke-width="1"/>
<line x1="406.9" y1="176.5" x2="408.5" y2="176.5" stroke="#111" stroke-width="0.8"/>
<text x="402.8" y="185.7" font-size="8.2" text-anchor="end" fill="#1a1a1a">1.0</text>
<text x="402.8" y="217.2" font-size="8.2" text-anchor="end" fill="#1a1a1a">0.5</text>
<text x="402.8" y="248.7" font-size="8.2" text-anchor="end" fill="#1a1a1a">0.0</text>
<line x1="419.4" y1="245.8" x2="419.4" y2="248.4" stroke="#111" stroke-width="0.9"/>
<line x1="433.15" y1="245.8" x2="433.15" y2="248.4" stroke="#111" stroke-width="0.9"/>
<line x1="446.9" y1="245.8" x2="446.9" y2="248.4" stroke="#111" stroke-width="0.9"/>
<line x1="460.65" y1="245.8" x2="460.65" y2="248.4" stroke="#111" stroke-width="0.9"/>
<line x1="474.4" y1="245.8" x2="474.4" y2="248.4" stroke="#111" stroke-width="0.9"/>
<line x1="488.15" y1="245.8" x2="488.15" y2="248.4" stroke="#111" stroke-width="0.9"/>
<line x1="501.9" y1="245.8" x2="501.9" y2="248.4" stroke="#111" stroke-width="0.9"/>
<text transform="translate(422 256.3) rotate(-45)" font-size="8.1" text-anchor="end" fill="#1a1a1a">DMSO</text>
<text transform="translate(435.75 256.3) rotate(-45)" font-size="8.1" text-anchor="end" fill="#1a1a1a">S63845</text>
<text transform="translate(449.5 256.3) rotate(-45)" font-size="8.1" text-anchor="end" fill="#1a1a1a">ABT-199</text>
<text transform="translate(463.25 256.3) rotate(-45)" font-size="8.1" text-anchor="end" fill="#1a1a1a">ABT-737</text>
<text transform="translate(477 256.3) rotate(-45)" font-size="8.1" text-anchor="end" fill="#1a1a1a">A-1331852</text>
<text transform="translate(490.75 256.3) rotate(-45)" font-size="8.1" text-anchor="end" fill="#1a1a1a">ABT-199/S63845</text>
<text transform="translate(504.5 256.3) rotate(-45)" font-size="8.1" text-anchor="end" fill="#1a1a1a">ABT-737/S63845</text>
<text x="461.7" y="165.3" font-size="9.4" text-anchor="middle" class="t">Ramos-BL</text>
<text transform="translate(385.3 210) rotate(-90)" font-size="8.6" text-anchor="middle" fill="#1a1a1a" textLength="58.8" lengthAdjust="spacingAndGlyphs" class="c">Proportion live cells</text>
<text x="460.4" y="312.3" font-size="8.6" text-anchor="middle" fill="#1a1a1a" textLength="69.6" lengthAdjust="spacingAndGlyphs" class="c">Drug treatment (5 &#956;M)</text>
<rect x="263.4" y="359.2" width="10.8" height="63" fill="#878a9b"/>
<rect x="277.15" y="418.42" width="10.8" height="3.78" fill="#bfd5f1"/>
<rect x="290.9" y="361.09" width="10.8" height="61.11" fill="#d3917f"/>
<rect x="304.65" y="361.72" width="10.8" height="60.48" fill="#b7d59c"/>
<rect x="318.4" y="365.5" width="10.8" height="56.7" fill="#7c5a8e"/>
<rect x="332.15" y="420.31" width="10.8" height="1.89" fill="#f3d888"/>
<rect x="345.9" y="420.94" width="10.8" height="1.26" fill="#ebbad8"/>
<circle cx="265.2" cy="359.2" r="1.6" fill="#fff" stroke="#4b4f69" stroke-width="1.0"/>
<circle cx="268.8" cy="359.2" r="1.6" fill="#fff" stroke="#4b4f69" stroke-width="1.0"/>
<circle cx="272.4" cy="359.2" r="1.6" fill="#fff" stroke="#4b4f69" stroke-width="1.0"/>
<circle cx="278.95" cy="419.68" r="1.6" fill="#fff" stroke="#4a90d9" stroke-width="1.0"/>
<circle cx="282.55" cy="414.95" r="1.6" fill="#fff" stroke="#4a90d9" stroke-width="1.0"/>
<circle cx="286.15" cy="419.05" r="1.6" fill="#fff" stroke="#4a90d9" stroke-width="1.0"/>
<ellipse cx="277.9" cy="401.9" rx="1.05" ry="0.85" fill="#1a1a1a"/>
<ellipse cx="281" cy="401.9" rx="1.05" ry="0.85" fill="#1a1a1a"/>
<ellipse cx="284.1" cy="401.9" rx="1.05" ry="0.85" fill="#1a1a1a"/>
<ellipse cx="287.2" cy="401.9" rx="1.05" ry="0.85" fill="#1a1a1a"/>
<circle cx="292.7" cy="361.09" r="1.6" fill="#fff" stroke="#c0203f" stroke-width="1.0"/>
<circle cx="296.3" cy="357.94" r="1.6" fill="#fff" stroke="#c0203f" stroke-width="1.0"/>
<circle cx="299.9" cy="359.2" r="1.6" fill="#fff" stroke="#c0203f" stroke-width="1.0"/>
<circle cx="306.45" cy="359.51" r="1.6" fill="#fff" stroke="#5aaa3c" stroke-width="1.0"/>
<circle cx="306.45" cy="363.29" r="1.6" fill="#fff" stroke="#5aaa3c" stroke-width="1.0"/>
<circle cx="310.05" cy="360.77" r="1.6" fill="#fff" stroke="#5aaa3c" stroke-width="1.0"/>
<circle cx="313.65" cy="360.46" r="1.6" fill="#fff" stroke="#5aaa3c" stroke-width="1.0"/>
<line x1="323.8" y1="358.57" x2="323.8" y2="371.8" stroke="#5e2a78" stroke-width="0.9"/>
<line x1="321.2" y1="358.57" x2="326.4" y2="358.57" stroke="#5e2a78" stroke-width="0.9"/>
<line x1="321.2" y1="371.8" x2="326.4" y2="371.8" stroke="#5e2a78" stroke-width="0.9"/>
<circle cx="320.2" cy="360.46" r="1.6" fill="#fff" stroke="#5e2a78" stroke-width="1.0"/>
<circle cx="327.4" cy="361.72" r="1.6" fill="#fff" stroke="#5e2a78" stroke-width="1.0"/>
<circle cx="323.8" cy="371.8" r="1.6" fill="#fff" stroke="#5e2a78" stroke-width="1.0"/>
<circle cx="333.95" cy="419.68" r="1.6" fill="#fff" stroke="#e8b000" stroke-width="1.0"/>
<circle cx="337.55" cy="419.68" r="1.6" fill="#fff" stroke="#e8b000" stroke-width="1.0"/>
<circle cx="341.15" cy="419.68" r="1.6" fill="#fff" stroke="#e8b000" stroke-width="1.0"/>
<ellipse cx="332.9" cy="401.4" rx="1.05" ry="0.85" fill="#1a1a1a"/>
<ellipse cx="336" cy="401.4" rx="1.05" ry="0.85" fill="#1a1a1a"/>
<ellipse cx="339.1" cy="401.4" rx="1.05" ry="0.85" fill="#1a1a1a"/>
<ellipse cx="342.2" cy="401.4" rx="1.05" ry="0.85" fill="#1a1a1a"/>
<circle cx="347.7" cy="420.94" r="1.6" fill="#fff" stroke="#d4289a" stroke-width="1.0"/>
<circle cx="351.3" cy="420.31" r="1.6" fill="#fff" stroke="#d4289a" stroke-width="1.0"/>
<circle cx="354.9" cy="420.31" r="1.6" fill="#fff" stroke="#d4289a" stroke-width="1.0"/>
<ellipse cx="346.65" cy="405.8" rx="1.05" ry="0.85" fill="#1a1a1a"/>
<ellipse cx="349.75" cy="405.8" rx="1.05" ry="0.85" fill="#1a1a1a"/>
<ellipse cx="352.85" cy="405.8" rx="1.05" ry="0.85" fill="#1a1a1a"/>
<ellipse cx="355.95" cy="405.8" rx="1.05" ry="0.85" fill="#1a1a1a"/>
<line x1="257.9" y1="350.2" x2="257.9" y2="422.75" stroke="#111" stroke-width="1.15"/>
<line x1="255.3" y1="422.2" x2="362.4" y2="422.2" stroke="#111" stroke-width="1.15"/>
<line x1="254.9" y1="422.2" x2="257.9" y2="422.2" stroke="#111" stroke-width="1"/>
<line x1="256.3" y1="415.9" x2="257.9" y2="415.9" stroke="#111" stroke-width="0.8"/>
<line x1="256.3" y1="409.6" x2="257.9" y2="409.6" stroke="#111" stroke-width="0.8"/>
<line x1="256.3" y1="403.3" x2="257.9" y2="403.3" stroke="#111" stroke-width="0.8"/>
<line x1="256.3" y1="397" x2="257.9" y2="397" stroke="#111" stroke-width="0.8"/>
<line x1="254.9" y1="390.7" x2="257.9" y2="390.7" stroke="#111" stroke-width="1"/>
<line x1="256.3" y1="384.4" x2="257.9" y2="384.4" stroke="#111" stroke-width="0.8"/>
<line x1="256.3" y1="378.1" x2="257.9" y2="378.1" stroke="#111" stroke-width="0.8"/>
<line x1="256.3" y1="371.8" x2="257.9" y2="371.8" stroke="#111" stroke-width="0.8"/>
<line x1="256.3" y1="365.5" x2="257.9" y2="365.5" stroke="#111" stroke-width="0.8"/>
<line x1="254.9" y1="359.2" x2="257.9" y2="359.2" stroke="#111" stroke-width="1"/>
<line x1="256.3" y1="352.9" x2="257.9" y2="352.9" stroke="#111" stroke-width="0.8"/>
<text x="252.2" y="362.1" font-size="8.2" text-anchor="end" fill="#1a1a1a">1.0</text>
<text x="252.2" y="393.6" font-size="8.2" text-anchor="end" fill="#1a1a1a">0.5</text>
<text x="252.2" y="425.1" font-size="8.2" text-anchor="end" fill="#1a1a1a">0.0</text>
<line x1="268.8" y1="422.2" x2="268.8" y2="424.8" stroke="#111" stroke-width="0.9"/>
<line x1="282.55" y1="422.2" x2="282.55" y2="424.8" stroke="#111" stroke-width="0.9"/>
<line x1="296.3" y1="422.2" x2="296.3" y2="424.8" stroke="#111" stroke-width="0.9"/>
<line x1="310.05" y1="422.2" x2="310.05" y2="424.8" stroke="#111" stroke-width="0.9"/>
<line x1="323.8" y1="422.2" x2="323.8" y2="424.8" stroke="#111" stroke-width="0.9"/>
<line x1="337.55" y1="422.2" x2="337.55" y2="424.8" stroke="#111" stroke-width="0.9"/>
<line x1="351.3" y1="422.2" x2="351.3" y2="424.8" stroke="#111" stroke-width="0.9"/>
<text transform="translate(271.4 432.7) rotate(-45)" font-size="8.1" text-anchor="end" fill="#1a1a1a">DMSO</text>
<text transform="translate(285.15 432.7) rotate(-45)" font-size="8.1" text-anchor="end" fill="#1a1a1a">S63845</text>
<text transform="translate(298.9 432.7) rotate(-45)" font-size="8.1" text-anchor="end" fill="#1a1a1a">ABT-199</text>
<text transform="translate(312.65 432.7) rotate(-45)" font-size="8.1" text-anchor="end" fill="#1a1a1a">ABT-737</text>
<text transform="translate(326.4 432.7) rotate(-45)" font-size="8.1" text-anchor="end" fill="#1a1a1a">A-1331852</text>
<text transform="translate(340.15 432.7) rotate(-45)" font-size="8.1" text-anchor="end" fill="#1a1a1a">ABT-199/S63845</text>
<text transform="translate(353.9 432.7) rotate(-45)" font-size="8.1" text-anchor="end" fill="#1a1a1a">ABT-737/S63845</text>
<text x="309.8" y="332" font-size="9.4" text-anchor="middle" class="t">HT</text>
<text transform="translate(234.7 386.4) rotate(-90)" font-size="8.6" text-anchor="middle" fill="#1a1a1a" textLength="58.8" lengthAdjust="spacingAndGlyphs" class="c">Proportion live cells</text>
<text x="309.8" y="487.6" font-size="8.6" text-anchor="middle" fill="#1a1a1a" textLength="69.6" lengthAdjust="spacingAndGlyphs" class="c">Drug treatment (5 &#956;M)</text>
<rect x="414" y="359.2" width="10.8" height="62.9" fill="#878a9b"/>
<rect x="427.75" y="417.07" width="10.8" height="5.03" fill="#bfd5f1"/>
<rect x="441.5" y="379.33" width="10.8" height="42.77" fill="#d3917f"/>
<rect x="455.25" y="403.23" width="10.8" height="18.87" fill="#b7d59c"/>
<rect x="469" y="363.6" width="10.8" height="58.5" fill="#7c5a8e"/>
<rect x="482.75" y="408.89" width="10.8" height="13.21" fill="#f3d888"/>
<rect x="496.5" y="409.52" width="10.8" height="12.58" fill="#ebbad8"/>
<circle cx="415.8" cy="359.2" r="1.6" fill="#fff" stroke="#4b4f69" stroke-width="1.0"/>
<circle cx="419.4" cy="359.2" r="1.6" fill="#fff" stroke="#4b4f69" stroke-width="1.0"/>
<circle cx="423" cy="359.2" r="1.6" fill="#fff" stroke="#4b4f69" stroke-width="1.0"/>
<circle cx="429.55" cy="416.88" r="1.6" fill="#fff" stroke="#4a90d9" stroke-width="1.0"/>
<circle cx="433.15" cy="414.55" r="1.6" fill="#fff" stroke="#4a90d9" stroke-width="1.0"/>
<circle cx="436.75" cy="416.88" r="1.6" fill="#fff" stroke="#4a90d9" stroke-width="1.0"/>
<ellipse cx="428.5" cy="393.2" rx="1.05" ry="0.85" fill="#1a1a1a"/>
<ellipse cx="431.6" cy="393.2" rx="1.05" ry="0.85" fill="#1a1a1a"/>
<ellipse cx="434.7" cy="393.2" rx="1.05" ry="0.85" fill="#1a1a1a"/>
<ellipse cx="437.8" cy="393.2" rx="1.05" ry="0.85" fill="#1a1a1a"/>
<line x1="446.9" y1="372.41" x2="446.9" y2="384.99" stroke="#c0203f" stroke-width="0.9"/>
<line x1="444.3" y1="372.41" x2="449.5" y2="372.41" stroke="#c0203f" stroke-width="0.9"/>
<line x1="444.3" y1="384.99" x2="449.5" y2="384.99" stroke="#c0203f" stroke-width="0.9"/>
<circle cx="443.3" cy="374.3" r="1.6" fill="#fff" stroke="#c0203f" stroke-width="1.0"/>
<circle cx="450.5" cy="376.18" r="1.6" fill="#fff" stroke="#c0203f" stroke-width="1.0"/>
<circle cx="446.9" cy="384.99" r="1.6" fill="#fff" stroke="#c0203f" stroke-width="1.0"/>
<ellipse cx="445.35" cy="362.6" rx="1.05" ry="0.85" fill="#1a1a1a"/>
<ellipse cx="448.45" cy="362.6" rx="1.05" ry="0.85" fill="#1a1a1a"/>
<line x1="460.65" y1="394.11" x2="460.65" y2="412.67" stroke="#5aaa3c" stroke-width="0.9"/>
<line x1="458.05" y1="394.11" x2="463.25" y2="394.11" stroke="#5aaa3c" stroke-width="0.9"/>
<line x1="458.05" y1="412.67" x2="463.25" y2="412.67" stroke="#5aaa3c" stroke-width="0.9"/>
<circle cx="460.65" cy="392.54" r="1.6" fill="#fff" stroke="#5aaa3c" stroke-width="1.0"/>
<circle cx="460.65" cy="405.43" r="1.6" fill="#fff" stroke="#5aaa3c" stroke-width="1.0"/>
<circle cx="460.65" cy="410.15" r="1.6" fill="#fff" stroke="#5aaa3c" stroke-width="1.0"/>
<ellipse cx="456" cy="381" rx="1.05" ry="0.85" fill="#1a1a1a"/>
<ellipse cx="459.1" cy="381" rx="1.05" ry="0.85" fill="#1a1a1a"/>
<ellipse cx="462.2" cy="381" rx="1.05" ry="0.85" fill="#1a1a1a"/>
<ellipse cx="465.3" cy="381" rx="1.05" ry="0.85" fill="#1a1a1a"/>
<circle cx="470.8" cy="363.6" r="1.6" fill="#fff" stroke="#5e2a78" stroke-width="1.0"/>
<circle cx="478" cy="364.23" r="1.6" fill="#fff" stroke="#5e2a78" stroke-width="1.0"/>
<circle cx="474.4" cy="368.01" r="1.6" fill="#fff" stroke="#5e2a78" stroke-width="1.0"/>
<line x1="488.15" y1="404.11" x2="488.15" y2="413.92" stroke="#e8b000" stroke-width="0.9"/>
<line x1="485.55" y1="404.11" x2="490.75" y2="404.11" stroke="#e8b000" stroke-width="0.9"/>
<line x1="485.55" y1="413.92" x2="490.75" y2="413.92" stroke="#e8b000" stroke-width="0.9"/>
<circle cx="484.55" cy="405.43" r="1.6" fill="#fff" stroke="#e8b000" stroke-width="1.0"/>
<circle cx="491.75" cy="406.69" r="1.6" fill="#fff" stroke="#e8b000" stroke-width="1.0"/>
<circle cx="488.15" cy="413.92" r="1.6" fill="#fff" stroke="#e8b000" stroke-width="1.0"/>
<ellipse cx="483.5" cy="388.8" rx="1.05" ry="0.85" fill="#1a1a1a"/>
<ellipse cx="486.6" cy="388.8" rx="1.05" ry="0.85" fill="#1a1a1a"/>
<ellipse cx="489.7" cy="388.8" rx="1.05" ry="0.85" fill="#1a1a1a"/>
<ellipse cx="492.8" cy="388.8" rx="1.05" ry="0.85" fill="#1a1a1a"/>
<line x1="501.9" y1="403.86" x2="501.9" y2="414.55" stroke="#d4289a" stroke-width="0.9"/>
<line x1="499.3" y1="403.86" x2="504.5" y2="403.86" stroke="#d4289a" stroke-width="0.9"/>
<line x1="499.3" y1="414.55" x2="504.5" y2="414.55" stroke="#d4289a" stroke-width="0.9"/>
<circle cx="501.9" cy="404.11" r="1.6" fill="#fff" stroke="#d4289a" stroke-width="1.0"/>
<circle cx="501.9" cy="408.89" r="1.6" fill="#fff" stroke="#d4289a" stroke-width="1.0"/>
<circle cx="501.9" cy="414.55" r="1.6" fill="#fff" stroke="#d4289a" stroke-width="1.0"/>
<ellipse cx="497.25" cy="394.8" rx="1.05" ry="0.85" fill="#1a1a1a"/>
<ellipse cx="500.35" cy="394.8" rx="1.05" ry="0.85" fill="#1a1a1a"/>
<ellipse cx="503.45" cy="394.8" rx="1.05" ry="0.85" fill="#1a1a1a"/>
<ellipse cx="506.55" cy="394.8" rx="1.05" ry="0.85" fill="#1a1a1a"/>
<line x1="408.5" y1="350.2" x2="408.5" y2="422.65" stroke="#111" stroke-width="1.15"/>
<line x1="405.9" y1="422.1" x2="513" y2="422.1" stroke="#111" stroke-width="1.15"/>
<line x1="405.5" y1="422.1" x2="408.5" y2="422.1" stroke="#111" stroke-width="1"/>
<line x1="406.9" y1="415.81" x2="408.5" y2="415.81" stroke="#111" stroke-width="0.8"/>
<line x1="406.9" y1="409.52" x2="408.5" y2="409.52" stroke="#111" stroke-width="0.8"/>
<line x1="406.9" y1="403.23" x2="408.5" y2="403.23" stroke="#111" stroke-width="0.8"/>
<line x1="406.9" y1="396.94" x2="408.5" y2="396.94" stroke="#111" stroke-width="0.8"/>
<line x1="405.5" y1="390.65" x2="408.5" y2="390.65" stroke="#111" stroke-width="1"/>
<line x1="406.9" y1="384.36" x2="408.5" y2="384.36" stroke="#111" stroke-width="0.8"/>
<line x1="406.9" y1="378.07" x2="408.5" y2="378.07" stroke="#111" stroke-width="0.8"/>
<line x1="406.9" y1="371.78" x2="408.5" y2="371.78" stroke="#111" stroke-width="0.8"/>
<line x1="406.9" y1="365.49" x2="408.5" y2="365.49" stroke="#111" stroke-width="0.8"/>
<line x1="405.5" y1="359.2" x2="408.5" y2="359.2" stroke="#111" stroke-width="1"/>
<line x1="406.9" y1="352.91" x2="408.5" y2="352.91" stroke="#111" stroke-width="0.8"/>
<text x="402.8" y="362.1" font-size="8.2" text-anchor="end" fill="#1a1a1a">1.0</text>
<text x="402.8" y="393.55" font-size="8.2" text-anchor="end" fill="#1a1a1a">0.5</text>
<text x="402.8" y="425" font-size="8.2" text-anchor="end" fill="#1a1a1a">0.0</text>
<line x1="419.4" y1="422.1" x2="419.4" y2="424.7" stroke="#111" stroke-width="0.9"/>
<line x1="433.15" y1="422.1" x2="433.15" y2="424.7" stroke="#111" stroke-width="0.9"/>
<line x1="446.9" y1="422.1" x2="446.9" y2="424.7" stroke="#111" stroke-width="0.9"/>
<line x1="460.65" y1="422.1" x2="460.65" y2="424.7" stroke="#111" stroke-width="0.9"/>
<line x1="474.4" y1="422.1" x2="474.4" y2="424.7" stroke="#111" stroke-width="0.9"/>
<line x1="488.15" y1="422.1" x2="488.15" y2="424.7" stroke="#111" stroke-width="0.9"/>
<line x1="501.9" y1="422.1" x2="501.9" y2="424.7" stroke="#111" stroke-width="0.9"/>
<text transform="translate(422 432.6) rotate(-45)" font-size="8.1" text-anchor="end" fill="#1a1a1a">DMSO</text>
<text transform="translate(435.75 432.6) rotate(-45)" font-size="8.1" text-anchor="end" fill="#1a1a1a">S63845</text>
<text transform="translate(449.5 432.6) rotate(-45)" font-size="8.1" text-anchor="end" fill="#1a1a1a">ABT-199</text>
<text transform="translate(463.25 432.6) rotate(-45)" font-size="8.1" text-anchor="end" fill="#1a1a1a">ABT-737</text>
<text transform="translate(477 432.6) rotate(-45)" font-size="8.1" text-anchor="end" fill="#1a1a1a">A-1331852</text>
<text transform="translate(490.75 432.6) rotate(-45)" font-size="8.1" text-anchor="end" fill="#1a1a1a">ABT-199/S63845</text>
<text transform="translate(504.5 432.6) rotate(-45)" font-size="8.1" text-anchor="end" fill="#1a1a1a">ABT-737/S63845</text>
<text x="459.9" y="332" font-size="9.4" text-anchor="middle" class="t">SUDHL-4</text>
<text transform="translate(385.3 386.35) rotate(-90)" font-size="8.6" text-anchor="middle" fill="#1a1a1a" textLength="58.8" lengthAdjust="spacingAndGlyphs" class="c">Proportion live cells</text>
<text x="460.4" y="487.6" font-size="8.6" text-anchor="middle" fill="#1a1a1a" textLength="69.6" lengthAdjust="spacingAndGlyphs" class="c">Drug treatment (5 &#956;M)</text>
<rect x="263.4" y="533.3" width="10.8" height="63.1" fill="#878a9b"/>
<rect x="277.15" y="572.42" width="10.8" height="23.98" fill="#bfd5f1"/>
<rect x="290.9" y="535.19" width="10.8" height="61.21" fill="#d3917f"/>
<rect x="304.65" y="535.19" width="10.8" height="61.21" fill="#b7d59c"/>
<rect x="318.4" y="534.56" width="10.8" height="61.84" fill="#7c5a8e"/>
<rect x="332.15" y="574.95" width="10.8" height="21.45" fill="#f3d888"/>
<rect x="345.9" y="575.58" width="10.8" height="20.82" fill="#ebbad8"/>
<circle cx="265.2" cy="533.3" r="1.6" fill="#fff" stroke="#4b4f69" stroke-width="1.0"/>
<circle cx="268.8" cy="533.3" r="1.6" fill="#fff" stroke="#4b4f69" stroke-width="1.0"/>
<circle cx="272.4" cy="533.3" r="1.6" fill="#fff" stroke="#4b4f69" stroke-width="1.0"/>
<line x1="282.55" y1="565.48" x2="282.55" y2="578.1" stroke="#4a90d9" stroke-width="0.9"/>
<line x1="279.95" y1="565.48" x2="285.15" y2="565.48" stroke="#4a90d9" stroke-width="0.9"/>
<line x1="279.95" y1="578.1" x2="285.15" y2="578.1" stroke="#4a90d9" stroke-width="0.9"/>
<circle cx="282.55" cy="565.48" r="1.6" fill="#fff" stroke="#4a90d9" stroke-width="1.0"/>
<circle cx="282.55" cy="572.42" r="1.6" fill="#fff" stroke="#4a90d9" stroke-width="1.0"/>
<circle cx="282.55" cy="578.1" r="1.6" fill="#fff" stroke="#4a90d9" stroke-width="1.0"/>
<ellipse cx="277.9" cy="554" rx="1.05" ry="0.85" fill="#1a1a1a"/>
<ellipse cx="281" cy="554" rx="1.05" ry="0.85" fill="#1a1a1a"/>
<ellipse cx="284.1" cy="554" rx="1.05" ry="0.85" fill="#1a1a1a"/>
<ellipse cx="287.2" cy="554" rx="1.05" ry="0.85" fill="#1a1a1a"/>
<circle cx="292.7" cy="534.56" r="1.6" fill="#fff" stroke="#c0203f" stroke-width="1.0"/>
<circle cx="296.3" cy="534.56" r="1.6" fill="#fff" stroke="#c0203f" stroke-width="1.0"/>
<circle cx="299.9" cy="534.56" r="1.6" fill="#fff" stroke="#c0203f" stroke-width="1.0"/>
<circle cx="306.45" cy="534.56" r="1.6" fill="#fff" stroke="#5aaa3c" stroke-width="1.0"/>
<circle cx="310.05" cy="532.67" r="1.6" fill="#fff" stroke="#5aaa3c" stroke-width="1.0"/>
<circle cx="313.65" cy="534.56" r="1.6" fill="#fff" stroke="#5aaa3c" stroke-width="1.0"/>
<circle cx="320.2" cy="533.3" r="1.6" fill="#fff" stroke="#5e2a78" stroke-width="1.0"/>
<circle cx="323.8" cy="533.3" r="1.6" fill="#fff" stroke="#5e2a78" stroke-width="1.0"/>
<circle cx="327.4" cy="533.3" r="1.6" fill="#fff" stroke="#5e2a78" stroke-width="1.0"/>
<line x1="337.55" y1="561.69" x2="337.55" y2="577.47" stroke="#e8b000" stroke-width="0.9"/>
<line x1="334.95" y1="561.69" x2="340.15" y2="561.69" stroke="#e8b000" stroke-width="0.9"/>
<line x1="334.95" y1="577.47" x2="340.15" y2="577.47" stroke="#e8b000" stroke-width="0.9"/>
<circle cx="337.55" cy="562.96" r="1.6" fill="#fff" stroke="#e8b000" stroke-width="1.0"/>
<circle cx="333.95" cy="573.68" r="1.6" fill="#fff" stroke="#e8b000" stroke-width="1.0"/>
<circle cx="341.15" cy="573.68" r="1.6" fill="#fff" stroke="#e8b000" stroke-width="1.0"/>
<ellipse cx="332.9" cy="547" rx="1.05" ry="0.85" fill="#1a1a1a"/>
<ellipse cx="336" cy="547" rx="1.05" ry="0.85" fill="#1a1a1a"/>
<ellipse cx="339.1" cy="547" rx="1.05" ry="0.85" fill="#1a1a1a"/>
<ellipse cx="342.2" cy="547" rx="1.05" ry="0.85" fill="#1a1a1a"/>
<line x1="351.3" y1="564.22" x2="351.3" y2="577.47" stroke="#d4289a" stroke-width="0.9"/>
<line x1="348.7" y1="564.22" x2="353.9" y2="564.22" stroke="#d4289a" stroke-width="0.9"/>
<line x1="348.7" y1="577.47" x2="353.9" y2="577.47" stroke="#d4289a" stroke-width="0.9"/>
<circle cx="351.3" cy="564.22" r="1.6" fill="#fff" stroke="#d4289a" stroke-width="1.0"/>
<circle cx="347.7" cy="572.42" r="1.6" fill="#fff" stroke="#d4289a" stroke-width="1.0"/>
<circle cx="354.9" cy="572.42" r="1.6" fill="#fff" stroke="#d4289a" stroke-width="1.0"/>
<ellipse cx="346.65" cy="554" rx="1.05" ry="0.85" fill="#1a1a1a"/>
<ellipse cx="349.75" cy="554" rx="1.05" ry="0.85" fill="#1a1a1a"/>
<ellipse cx="352.85" cy="554" rx="1.05" ry="0.85" fill="#1a1a1a"/>
<ellipse cx="355.95" cy="554" rx="1.05" ry="0.85" fill="#1a1a1a"/>
<line x1="257.9" y1="524.3" x2="257.9" y2="596.95" stroke="#111" stroke-width="1.15"/>
<line x1="255.3" y1="596.4" x2="362.4" y2="596.4" stroke="#111" stroke-width="1.15"/>
<line x1="254.9" y1="596.4" x2="257.9" y2="596.4" stroke="#111" stroke-width="1"/>
<line x1="256.3" y1="590.09" x2="257.9" y2="590.09" stroke="#111" stroke-width="0.8"/>
<line x1="256.3" y1="583.78" x2="257.9" y2="583.78" stroke="#111" stroke-width="0.8"/>
<line x1="256.3" y1="577.47" x2="257.9" y2="577.47" stroke="#111" stroke-width="0.8"/>
<line x1="256.3" y1="571.16" x2="257.9" y2="571.16" stroke="#111" stroke-width="0.8"/>
<line x1="254.9" y1="564.85" x2="257.9" y2="564.85" stroke="#111" stroke-width="1"/>
<line x1="256.3" y1="558.54" x2="257.9" y2="558.54" stroke="#111" stroke-width="0.8"/>
<line x1="256.3" y1="552.23" x2="257.9" y2="552.23" stroke="#111" stroke-width="0.8"/>
<line x1="256.3" y1="545.92" x2="257.9" y2="545.92" stroke="#111" stroke-width="0.8"/>
<line x1="256.3" y1="539.61" x2="257.9" y2="539.61" stroke="#111" stroke-width="0.8"/>
<line x1="254.9" y1="533.3" x2="257.9" y2="533.3" stroke="#111" stroke-width="1"/>
<line x1="256.3" y1="526.99" x2="257.9" y2="526.99" stroke="#111" stroke-width="0.8"/>
<text x="252.2" y="536.2" font-size="8.2" text-anchor="end" fill="#1a1a1a">1.0</text>
<text x="252.2" y="567.75" font-size="8.2" text-anchor="end" fill="#1a1a1a">0.5</text>
<text x="252.2" y="599.3" font-size="8.2" text-anchor="end" fill="#1a1a1a">0.0</text>
<line x1="268.8" y1="596.4" x2="268.8" y2="599" stroke="#111" stroke-width="0.9"/>
<line x1="282.55" y1="596.4" x2="282.55" y2="599" stroke="#111" stroke-width="0.9"/>
<line x1="296.3" y1="596.4" x2="296.3" y2="599" stroke="#111" stroke-width="0.9"/>
<line x1="310.05" y1="596.4" x2="310.05" y2="599" stroke="#111" stroke-width="0.9"/>
<line x1="323.8" y1="596.4" x2="323.8" y2="599" stroke="#111" stroke-width="0.9"/>
<line x1="337.55" y1="596.4" x2="337.55" y2="599" stroke="#111" stroke-width="0.9"/>
<line x1="351.3" y1="596.4" x2="351.3" y2="599" stroke="#111" stroke-width="0.9"/>
<text transform="translate(271.4 606.9) rotate(-45)" font-size="8.1" text-anchor="end" fill="#1a1a1a">DMSO</text>
<text transform="translate(285.15 606.9) rotate(-45)" font-size="8.1" text-anchor="end" fill="#1a1a1a">S63845</text>
<text transform="translate(298.9 606.9) rotate(-45)" font-size="8.1" text-anchor="end" fill="#1a1a1a">ABT-199</text>
<text transform="translate(312.65 606.9) rotate(-45)" font-size="8.1" text-anchor="end" fill="#1a1a1a">ABT-737</text>
<text transform="translate(326.4 606.9) rotate(-45)" font-size="8.1" text-anchor="end" fill="#1a1a1a">A-1331852</text>
<text transform="translate(340.15 606.9) rotate(-45)" font-size="8.1" text-anchor="end" fill="#1a1a1a">ABT-199/S63845</text>
<text transform="translate(353.9 606.9) rotate(-45)" font-size="8.1" text-anchor="end" fill="#1a1a1a">ABT-737/S63845</text>
<text x="310" y="509.6" font-size="9.4" text-anchor="middle" class="t">SUDHL-5</text>
<text transform="translate(234.7 560.55) rotate(-90)" font-size="8.6" text-anchor="middle" fill="#1a1a1a" textLength="58.8" lengthAdjust="spacingAndGlyphs" class="c">Proportion live cells</text>
<text x="309.8" y="663.1" font-size="8.6" text-anchor="middle" fill="#1a1a1a" textLength="69.6" lengthAdjust="spacingAndGlyphs" class="c">Drug treatment (5 &#956;M)</text>
<rect x="414" y="533.3" width="10.8" height="63.1" fill="#878a9b"/>
<rect x="427.75" y="542.13" width="10.8" height="54.27" fill="#bfd5f1"/>
<rect x="441.5" y="577.15" width="10.8" height="19.25" fill="#d3917f"/>
<rect x="455.25" y="586.93" width="10.8" height="9.47" fill="#b7d59c"/>
<rect x="469" y="539.29" width="10.8" height="57.11" fill="#7c5a8e"/>
<rect x="482.75" y="593.88" width="10.8" height="2.52" fill="#f3d888"/>
<rect x="496.5" y="594.51" width="10.8" height="1.89" fill="#ebbad8"/>
<circle cx="415.8" cy="533.3" r="1.6" fill="#fff" stroke="#4b4f69" stroke-width="1.0"/>
<circle cx="419.4" cy="533.3" r="1.6" fill="#fff" stroke="#4b4f69" stroke-width="1.0"/>
<circle cx="423" cy="533.3" r="1.6" fill="#fff" stroke="#4b4f69" stroke-width="1.0"/>
<circle cx="429.55" cy="541.19" r="1.6" fill="#fff" stroke="#4a90d9" stroke-width="1.0"/>
<circle cx="433.15" cy="538.98" r="1.6" fill="#fff" stroke="#4a90d9" stroke-width="1.0"/>
<circle cx="436.75" cy="540.24" r="1.6" fill="#fff" stroke="#4a90d9" stroke-width="1.0"/>
<line x1="446.9" y1="567.37" x2="446.9" y2="587.57" stroke="#c0203f" stroke-width="0.9"/>
<line x1="444.3" y1="567.37" x2="449.5" y2="567.37" stroke="#c0203f" stroke-width="0.9"/>
<line x1="444.3" y1="587.57" x2="449.5" y2="587.57" stroke="#c0203f" stroke-width="0.9"/>
<circle cx="443.3" cy="569.9" r="1.6" fill="#fff" stroke="#c0203f" stroke-width="1.0"/>
<circle cx="450.5" cy="572.42" r="1.6" fill="#fff" stroke="#c0203f" stroke-width="1.0"/>
<circle cx="446.9" cy="587.57" r="1.6" fill="#fff" stroke="#c0203f" stroke-width="1.0"/>
<ellipse cx="442.25" cy="559.2" rx="1.05" ry="0.85" fill="#1a1a1a"/>
<ellipse cx="445.35" cy="559.2" rx="1.05" ry="0.85" fill="#1a1a1a"/>
<ellipse cx="448.45" cy="559.2" rx="1.05" ry="0.85" fill="#1a1a1a"/>
<ellipse cx="451.55" cy="559.2" rx="1.05" ry="0.85" fill="#1a1a1a"/>
<line x1="460.65" y1="580.62" x2="460.65" y2="592.61" stroke="#5aaa3c" stroke-width="0.9"/>
<line x1="458.05" y1="580.62" x2="463.25" y2="580.62" stroke="#5aaa3c" stroke-width="0.9"/>
<line x1="458.05" y1="592.61" x2="463.25" y2="592.61" stroke="#5aaa3c" stroke-width="0.9"/>
<circle cx="457.05" cy="582.52" r="1.6" fill="#fff" stroke="#5aaa3c" stroke-width="1.0"/>
<circle cx="464.25" cy="583.15" r="1.6" fill="#fff" stroke="#5aaa3c" stroke-width="1.0"/>
<circle cx="460.65" cy="592.61" r="1.6" fill="#fff" stroke="#5aaa3c" stroke-width="1.0"/>
<ellipse cx="456" cy="572" rx="1.05" ry="0.85" fill="#1a1a1a"/>
<ellipse cx="459.1" cy="572" rx="1.05" ry="0.85" fill="#1a1a1a"/>
<ellipse cx="462.2" cy="572" rx="1.05" ry="0.85" fill="#1a1a1a"/>
<ellipse cx="465.3" cy="572" rx="1.05" ry="0.85" fill="#1a1a1a"/>
<circle cx="470.8" cy="538.98" r="1.6" fill="#fff" stroke="#5e2a78" stroke-width="1.0"/>
<circle cx="474.4" cy="538.98" r="1.6" fill="#fff" stroke="#5e2a78" stroke-width="1.0"/>
<circle cx="478" cy="538.98" r="1.6" fill="#fff" stroke="#5e2a78" stroke-width="1.0"/>
<circle cx="484.55" cy="593.56" r="1.6" fill="#fff" stroke="#e8b000" stroke-width="1.0"/>
<circle cx="488.15" cy="591.98" r="1.6" fill="#fff" stroke="#e8b000" stroke-width="1.0"/>
<circle cx="491.75" cy="591.98" r="1.6" fill="#fff" stroke="#e8b000" stroke-width="1.0"/>
<ellipse cx="483.5" cy="578.5" rx="1.05" ry="0.85" fill="#1a1a1a"/>
<ellipse cx="486.6" cy="578.5" rx="1.05" ry="0.85" fill="#1a1a1a"/>
<ellipse cx="489.7" cy="578.5" rx="1.05" ry="0.85" fill="#1a1a1a"/>
<ellipse cx="492.8" cy="578.5" rx="1.05" ry="0.85" fill="#1a1a1a"/>
<circle cx="498.3" cy="594.51" r="1.6" fill="#fff" stroke="#d4289a" stroke-width="1.0"/>
<circle cx="501.9" cy="592.61" r="1.6" fill="#fff" stroke="#d4289a" stroke-width="1.0"/>
<circle cx="505.5" cy="594.51" r="1.6" fill="#fff" stroke="#d4289a" stroke-width="1.0"/>
<ellipse cx="497.25" cy="583.7" rx="1.05" ry="0.85" fill="#1a1a1a"/>
<ellipse cx="500.35" cy="583.7" rx="1.05" ry="0.85" fill="#1a1a1a"/>
<ellipse cx="503.45" cy="583.7" rx="1.05" ry="0.85" fill="#1a1a1a"/>
<ellipse cx="506.55" cy="583.7" rx="1.05" ry="0.85" fill="#1a1a1a"/>
<line x1="408.5" y1="524.3" x2="408.5" y2="596.95" stroke="#111" stroke-width="1.15"/>
<line x1="405.9" y1="596.4" x2="513" y2="596.4" stroke="#111" stroke-width="1.15"/>
<line x1="405.5" y1="596.4" x2="408.5" y2="596.4" stroke="#111" stroke-width="1"/>
<line x1="406.9" y1="590.09" x2="408.5" y2="590.09" stroke="#111" stroke-width="0.8"/>
<line x1="406.9" y1="583.78" x2="408.5" y2="583.78" stroke="#111" stroke-width="0.8"/>
<line x1="406.9" y1="577.47" x2="408.5" y2="577.47" stroke="#111" stroke-width="0.8"/>
<line x1="406.9" y1="571.16" x2="408.5" y2="571.16" stroke="#111" stroke-width="0.8"/>
<line x1="405.5" y1="564.85" x2="408.5" y2="564.85" stroke="#111" stroke-width="1"/>
<line x1="406.9" y1="558.54" x2="408.5" y2="558.54" stroke="#111" stroke-width="0.8"/>
<line x1="406.9" y1="552.23" x2="408.5" y2="552.23" stroke="#111" stroke-width="0.8"/>
<line x1="406.9" y1="545.92" x2="408.5" y2="545.92" stroke="#111" stroke-width="0.8"/>
<line x1="406.9" y1="539.61" x2="408.5" y2="539.61" stroke="#111" stroke-width="0.8"/>
<line x1="405.5" y1="533.3" x2="408.5" y2="533.3" stroke="#111" stroke-width="1"/>
<line x1="406.9" y1="526.99" x2="408.5" y2="526.99" stroke="#111" stroke-width="0.8"/>
<text x="402.8" y="536.2" font-size="8.2" text-anchor="end" fill="#1a1a1a">1.0</text>
<text x="402.8" y="567.75" font-size="8.2" text-anchor="end" fill="#1a1a1a">0.5</text>
<text x="402.8" y="599.3" font-size="8.2" text-anchor="end" fill="#1a1a1a">0.0</text>
<line x1="419.4" y1="596.4" x2="419.4" y2="599" stroke="#111" stroke-width="0.9"/>
<line x1="433.15" y1="596.4" x2="433.15" y2="599" stroke="#111" stroke-width="0.9"/>
<line x1="446.9" y1="596.4" x2="446.9" y2="599" stroke="#111" stroke-width="0.9"/>
<line x1="460.65" y1="596.4" x2="460.65" y2="599" stroke="#111" stroke-width="0.9"/>
<line x1="474.4" y1="596.4" x2="474.4" y2="599" stroke="#111" stroke-width="0.9"/>
<line x1="488.15" y1="596.4" x2="488.15" y2="599" stroke="#111" stroke-width="0.9"/>
<line x1="501.9" y1="596.4" x2="501.9" y2="599" stroke="#111" stroke-width="0.9"/>
<text transform="translate(422 606.9) rotate(-45)" font-size="8.1" text-anchor="end" fill="#1a1a1a">DMSO</text>
<text transform="translate(435.75 606.9) rotate(-45)" font-size="8.1" text-anchor="end" fill="#1a1a1a">S63845</text>
<text transform="translate(449.5 606.9) rotate(-45)" font-size="8.1" text-anchor="end" fill="#1a1a1a">ABT-199</text>
<text transform="translate(463.25 606.9) rotate(-45)" font-size="8.1" text-anchor="end" fill="#1a1a1a">ABT-737</text>
<text transform="translate(477 606.9) rotate(-45)" font-size="8.1" text-anchor="end" fill="#1a1a1a">A-1331852</text>
<text transform="translate(490.75 606.9) rotate(-45)" font-size="8.1" text-anchor="end" fill="#1a1a1a">ABT-199/S63845</text>
<text transform="translate(504.5 606.9) rotate(-45)" font-size="8.1" text-anchor="end" fill="#1a1a1a">ABT-737/S63845</text>
<text x="461.6" y="509.6" font-size="9.4" text-anchor="middle" class="t">U2932</text>
<text transform="translate(385.3 560.55) rotate(-90)" font-size="8.6" text-anchor="middle" fill="#1a1a1a" textLength="58.8" lengthAdjust="spacingAndGlyphs" class="c">Proportion live cells</text>
<text x="460.4" y="663.1" font-size="8.6" text-anchor="middle" fill="#1a1a1a" textLength="69.6" lengthAdjust="spacingAndGlyphs" class="c">Drug treatment (5 &#956;M)</text>
<g shape-rendering="crispEdges">
<rect x="341" y="27" width="1" height="1" fill="#6577d3" fill-opacity="0.41"/>
<rect x="351" y="27" width="1" height="1" fill="#5c70d0" fill-opacity="0.48"/>
<rect x="337" y="29" width="1" height="1" fill="#8594e0" fill-opacity="0.41"/>
<rect x="345" y="29" width="1" height="1" fill="#687ad4" fill-opacity="0.34"/>
<rect x="352" y="29" width="1" height="1" fill="#7a8adc" fill-opacity="0.35"/>
<rect x="337" y="30" width="1" height="1" fill="#8191de" fill-opacity="0.40"/>
<rect x="351" y="30" width="1" height="1" fill="#6477d3" fill-opacity="0.34"/>
<rect x="339" y="31" width="1" height="1" fill="#7e8ddd" fill-opacity="0.50"/>
<rect x="334" y="32" width="1" height="1" fill="#6678d4" fill-opacity="0.37"/>
<rect x="340" y="32" width="1" height="1" fill="#697bd5" fill-opacity="0.38"/>
<rect x="341" y="32" width="1" height="1" fill="#8291df" fill-opacity="0.38"/>
<rect x="345" y="33" width="1" height="1" fill="#576bce" fill-opacity="0.42"/>
<rect x="348" y="33" width="1" height="1" fill="#7b8bdc" fill-opacity="0.39"/>
<rect x="326" y="34" width="1" height="1" fill="#7384d9" fill-opacity="0.39"/>
<rect x="331" y="34" width="1" height="1" fill="#6174d2" fill-opacity="0.45"/>
<rect x="338" y="34" width="1" height="1" fill="#4f64c8" fill-opacity="0.47"/>
<rect x="356" y="34" width="1" height="1" fill="#7f8fde" fill-opacity="0.38"/>
<rect x="328" y="35" width="1" height="1" fill="#6375d2" fill-opacity="0.48"/>
<rect x="335" y="35" width="1" height="1" fill="#7283d8" fill-opacity="0.45"/>
<rect x="338" y="35" width="1" height="1" fill="#7e8edd" fill-opacity="0.52"/>
<rect x="340" y="35" width="1" height="1" fill="#566acd" fill-opacity="0.52"/>
<rect x="342" y="35" width="1" height="1" fill="#5368cc" fill-opacity="0.47"/>
<rect x="344" y="35" width="1" height="1" fill="#4a61c5" fill-opacity="0.36"/>
<rect x="345" y="35" width="1" height="1" fill="#6577d3" fill-opacity="0.39"/>
<rect x="347" y="35" width="1" height="1" fill="#425abe" fill-opacity="0.42"/>
<rect x="348" y="35" width="1" height="1" fill="#7989db" fill-opacity="0.39"/>
<rect x="352" y="35" width="1" height="1" fill="#8090de" fill-opacity="0.32"/>
<rect x="322" y="36" width="1" height="1" fill="#6f80d7" fill-opacity="0.39"/>
<rect x="326" y="36" width="1" height="1" fill="#8796e1" fill-opacity="0.39"/>
<rect x="327" y="36" width="1" height="1" fill="#576acd" fill-opacity="0.38"/>
<rect x="329" y="36" width="1" height="1" fill="#5b6fcf" fill-opacity="0.47"/>
<rect x="334" y="36" width="1" height="1" fill="#5569cd" fill-opacity="0.49"/>
<rect x="336" y="36" width="1" height="1" fill="#7586d9" fill-opacity="0.53"/>
<rect x="340" y="36" width="1" height="1" fill="#5e71d0" fill-opacity="0.39"/>
<rect x="341" y="36" width="1" height="1" fill="#5065c9" fill-opacity="0.43"/>
<rect x="343" y="36" width="1" height="1" fill="#5367cb" fill-opacity="0.38"/>
<rect x="346" y="36" width="1" height="1" fill="#6275d2" fill-opacity="0.47"/>
<rect x="329" y="37" width="1" height="1" fill="#465ec2" fill-opacity="0.51"/>
<rect x="331" y="37" width="1" height="1" fill="#2f55b2" fill-opacity="0.50"/>
<rect x="332" y="37" width="1" height="1" fill="#4e63c7" fill-opacity="0.61"/>
<rect x="334" y="37" width="1" height="1" fill="#6678d4" fill-opacity="0.48"/>
<rect x="336" y="37" width="1" height="1" fill="#2f4cb0" fill-opacity="0.42"/>
<rect x="340" y="37" width="1" height="1" fill="#6678d3" fill-opacity="0.53"/>
<rect x="341" y="37" width="1" height="1" fill="#435bbf" fill-opacity="0.38"/>
<rect x="328" y="38" width="1" height="1" fill="#4e64c8" fill-opacity="0.35"/>
<rect x="330" y="38" width="1" height="1" fill="#5368cc" fill-opacity="0.64"/>
<rect x="331" y="38" width="1" height="1" fill="#3652b6" fill-opacity="0.64"/>
<rect x="332" y="38" width="1" height="1" fill="#305cb4" fill-opacity="0.52"/>
<rect x="334" y="38" width="1" height="1" fill="#7485d9" fill-opacity="0.56"/>
<rect x="338" y="38" width="1" height="1" fill="#485fc3" fill-opacity="0.65"/>
<rect x="339" y="38" width="1" height="1" fill="#4e64c8" fill-opacity="0.36"/>
<rect x="343" y="38" width="1" height="1" fill="#425bbf" fill-opacity="0.49"/>
<rect x="350" y="38" width="1" height="1" fill="#6275d2" fill-opacity="0.46"/>
<rect x="354" y="38" width="1" height="1" fill="#8595e0" fill-opacity="0.52"/>
<rect x="326" y="39" width="1" height="1" fill="#8796e1" fill-opacity="0.45"/>
<rect x="331" y="39" width="1" height="1" fill="#3752b6" fill-opacity="0.41"/>
<rect x="332" y="39" width="1" height="1" fill="#314eb2" fill-opacity="0.51"/>
<rect x="334" y="39" width="1" height="1" fill="#475fc3" fill-opacity="0.66"/>
<rect x="336" y="39" width="1" height="1" fill="#465ec2" fill-opacity="0.43"/>
<rect x="337" y="39" width="1" height="1" fill="#566acd" fill-opacity="0.52"/>
<rect x="338" y="39" width="1" height="1" fill="#3d57bb" fill-opacity="0.55"/>
<rect x="339" y="39" width="1" height="1" fill="#4c62c6" fill-opacity="0.44"/>
<rect x="342" y="39" width="1" height="1" fill="#4a61c5" fill-opacity="0.51"/>
<rect x="344" y="39" width="1" height="1" fill="#6578d3" fill-opacity="0.49"/>
<rect x="353" y="39" width="1" height="1" fill="#7e8edd" fill-opacity="0.40"/>
<rect x="323" y="40" width="1" height="1" fill="#7081d7" fill-opacity="0.52"/>
<rect x="329" y="40" width="1" height="1" fill="#2f57b3" fill-opacity="0.69"/>
<rect x="330" y="40" width="1" height="1" fill="#2d4baf" fill-opacity="0.37"/>
<rect x="331" y="40" width="1" height="1" fill="#2d4baf" fill-opacity="0.54"/>
<rect x="332" y="40" width="1" height="1" fill="#2f58b3" fill-opacity="0.72"/>
<rect x="333" y="40" width="1" height="1" fill="#3d57bb" fill-opacity="0.44"/>
<rect x="334" y="40" width="1" height="1" fill="#3b55b9" fill-opacity="0.48"/>
<rect x="335" y="40" width="1" height="1" fill="#5267cb" fill-opacity="0.62"/>
<rect x="336" y="40" width="1" height="1" fill="#3450b4" fill-opacity="0.63"/>
<rect x="337" y="40" width="1" height="1" fill="#2f4cb0" fill-opacity="0.51"/>
<rect x="339" y="40" width="1" height="1" fill="#5166ca" fill-opacity="0.55"/>
<rect x="340" y="40" width="1" height="1" fill="#3350b4" fill-opacity="0.39"/>
<rect x="342" y="40" width="1" height="1" fill="#6678d3" fill-opacity="0.47"/>
<rect x="343" y="40" width="1" height="1" fill="#586cce" fill-opacity="0.50"/>
<rect x="347" y="40" width="1" height="1" fill="#6d7fd6" fill-opacity="0.37"/>
<rect x="317" y="41" width="1" height="1" fill="#5a6dcf" fill-opacity="0.47"/>
<rect x="322" y="41" width="1" height="1" fill="#485fc3" fill-opacity="0.44"/>
<rect x="328" y="41" width="1" height="1" fill="#5266ca" fill-opacity="0.51"/>
<rect x="329" y="41" width="1" height="1" fill="#324fb3" fill-opacity="0.50"/>
<rect x="331" y="41" width="1" height="1" fill="#3b93c7" fill-opacity="0.58"/>
<rect x="333" y="41" width="1" height="1" fill="#415abe" fill-opacity="0.94"/>
<rect x="334" y="41" width="1" height="1" fill="#2d4caf" fill-opacity="0.70"/>
<rect x="337" y="41" width="1" height="1" fill="#445cc0" fill-opacity="0.48"/>
<rect x="338" y="41" width="1" height="1" fill="#3853b7" fill-opacity="0.48"/>
<rect x="340" y="41" width="1" height="1" fill="#5468cc" fill-opacity="0.48"/>
<rect x="341" y="41" width="1" height="1" fill="#445cc0" fill-opacity="0.46"/>
<rect x="342" y="41" width="1" height="1" fill="#8796e1" fill-opacity="0.46"/>
<rect x="343" y="41" width="1" height="1" fill="#6376d2" fill-opacity="0.47"/>
<rect x="286" y="42" width="1" height="1" fill="#6c7ed6" fill-opacity="0.44"/>
<rect x="288" y="42" width="1" height="1" fill="#6376d2" fill-opacity="0.35"/>
<rect x="323" y="42" width="1" height="1" fill="#4d63c7" fill-opacity="0.48"/>
<rect x="324" y="42" width="1" height="1" fill="#5368cc" fill-opacity="0.44"/>
<rect x="325" y="42" width="1" height="1" fill="#2e4cb0" fill-opacity="0.78"/>
<rect x="326" y="42" width="1" height="1" fill="#6b7cd5" fill-opacity="0.56"/>
<rect x="327" y="42" width="1" height="1" fill="#4a60c4" fill-opacity="0.54"/>
<rect x="328" y="42" width="1" height="1" fill="#2f4db1" fill-opacity="0.48"/>
<rect x="329" y="42" width="1" height="1" fill="#425bbf" fill-opacity="0.66"/>
<rect x="330" y="42" width="1" height="1" fill="#3752b6" fill-opacity="0.40"/>
<rect x="331" y="42" width="1" height="1" fill="#3954b8" fill-opacity="0.48"/>
<rect x="332" y="42" width="1" height="1" fill="#415abe" fill-opacity="0.49"/>
<rect x="333" y="42" width="1" height="1" fill="#3954b8" fill-opacity="0.66"/>
<rect x="334" y="42" width="1" height="1" fill="#4d63c7" fill-opacity="0.45"/>
<rect x="335" y="42" width="1" height="1" fill="#3f58bc" fill-opacity="0.53"/>
<rect x="336" y="42" width="1" height="1" fill="#4059bd" fill-opacity="0.50"/>
<rect x="337" y="42" width="1" height="1" fill="#425abe" fill-opacity="0.59"/>
<rect x="338" y="42" width="1" height="1" fill="#5368cc" fill-opacity="0.38"/>
<rect x="344" y="42" width="1" height="1" fill="#687ad4" fill-opacity="0.55"/>
<rect x="317" y="43" width="1" height="1" fill="#8796e1" fill-opacity="0.50"/>
<rect x="321" y="43" width="1" height="1" fill="#415abe" fill-opacity="0.47"/>
<rect x="322" y="43" width="1" height="1" fill="#5468cc" fill-opacity="0.41"/>
<rect x="325" y="43" width="1" height="1" fill="#4f65c9" fill-opacity="0.42"/>
<rect x="326" y="43" width="1" height="1" fill="#6476d3" fill-opacity="0.44"/>
<rect x="327" y="43" width="1" height="1" fill="#475ec2" fill-opacity="0.57"/>
<rect x="329" y="43" width="1" height="1" fill="#2d4eb0" fill-opacity="0.47"/>
<rect x="331" y="43" width="1" height="1" fill="#3161b6" fill-opacity="0.52"/>
<rect x="333" y="43" width="1" height="1" fill="#5d70d0" fill-opacity="0.50"/>
<rect x="334" y="43" width="1" height="1" fill="#3267b8" fill-opacity="0.41"/>
<rect x="335" y="43" width="1" height="1" fill="#455dc1" fill-opacity="0.54"/>
<rect x="336" y="43" width="1" height="1" fill="#5065c9" fill-opacity="0.49"/>
<rect x="337" y="43" width="1" height="1" fill="#455dc1" fill-opacity="0.54"/>
<rect x="339" y="43" width="1" height="1" fill="#5065c9" fill-opacity="0.69"/>
<rect x="341" y="43" width="1" height="1" fill="#445cc0" fill-opacity="0.53"/>
<rect x="344" y="43" width="1" height="1" fill="#6376d2" fill-opacity="0.51"/>
<rect x="321" y="44" width="1" height="1" fill="#5065c9" fill-opacity="0.61"/>
<rect x="322" y="44" width="1" height="1" fill="#435bbf" fill-opacity="0.47"/>
<rect x="323" y="44" width="1" height="1" fill="#3551b5" fill-opacity="0.53"/>
<rect x="324" y="44" width="1" height="1" fill="#2f59b3" fill-opacity="0.41"/>
<rect x="325" y="44" width="1" height="1" fill="#3752b6" fill-opacity="0.69"/>
<rect x="326" y="44" width="1" height="1" fill="#2d4baf" fill-opacity="0.54"/>
<rect x="327" y="44" width="1" height="1" fill="#305bb4" fill-opacity="0.47"/>
<rect x="328" y="44" width="1" height="1" fill="#2f57b3" fill-opacity="0.59"/>
<rect x="329" y="44" width="1" height="1" fill="#2f4cb0" fill-opacity="0.65"/>
<rect x="330" y="44" width="1" height="1" fill="#3f59bd" fill-opacity="0.58"/>
<rect x="333" y="44" width="1" height="1" fill="#3f59bd" fill-opacity="0.40"/>
<rect x="334" y="44" width="1" height="1" fill="#425bbf" fill-opacity="0.42"/>
<rect x="335" y="44" width="1" height="1" fill="#3266b8" fill-opacity="0.49"/>
<rect x="336" y="44" width="1" height="1" fill="#5a6ecf" fill-opacity="0.46"/>
<rect x="337" y="44" width="1" height="1" fill="#3652b6" fill-opacity="0.38"/>
<rect x="339" y="44" width="1" height="1" fill="#3f59bd" fill-opacity="0.44"/>
<rect x="341" y="44" width="1" height="1" fill="#4d63c7" fill-opacity="0.62"/>
<rect x="342" y="44" width="1" height="1" fill="#6174d1" fill-opacity="0.35"/>
<rect x="318" y="45" width="1" height="1" fill="#6375d2" fill-opacity="0.41"/>
<rect x="322" y="45" width="1" height="1" fill="#3853b7" fill-opacity="0.67"/>
<rect x="323" y="45" width="1" height="1" fill="#3853b7" fill-opacity="0.51"/>
<rect x="324" y="45" width="1" height="1" fill="#5065c9" fill-opacity="0.66"/>
<rect x="326" y="45" width="1" height="1" fill="#3d57bb" fill-opacity="0.66"/>
<rect x="327" y="45" width="1" height="1" fill="#314eb2" fill-opacity="0.53"/>
<rect x="328" y="45" width="1" height="1" fill="#3753b7" fill-opacity="0.72"/>
<rect x="329" y="45" width="1" height="1" fill="#305db5" fill-opacity="0.90"/>
<rect x="330" y="45" width="1" height="1" fill="#2d4eb0" fill-opacity="0.94"/>
<rect x="331" y="45" width="1" height="1" fill="#3886c2" fill-opacity="0.68"/>
<rect x="332" y="45" width="1" height="1" fill="#3752b6" fill-opacity="0.53"/>
<rect x="333" y="45" width="1" height="1" fill="#3450b4" fill-opacity="0.84"/>
<rect x="334" y="45" width="1" height="1" fill="#3576bd" fill-opacity="0.74"/>
<rect x="335" y="45" width="1" height="1" fill="#2d4fb0" fill-opacity="0.65"/>
<rect x="336" y="45" width="1" height="1" fill="#5065c9" fill-opacity="0.78"/>
<rect x="342" y="45" width="1" height="1" fill="#4f64c8" fill-opacity="0.42"/>
<rect x="318" y="46" width="1" height="1" fill="#7384d9" fill-opacity="0.50"/>
<rect x="321" y="46" width="1" height="1" fill="#425bbf" fill-opacity="0.49"/>
<rect x="323" y="46" width="1" height="1" fill="#3987c3" fill-opacity="0.40"/>
<rect x="324" y="46" width="1" height="1" fill="#3753b7" fill-opacity="0.52"/>
<rect x="325" y="46" width="1" height="1" fill="#3264b7" fill-opacity="0.57"/>
<rect x="326" y="46" width="1" height="1" fill="#3161b6" fill-opacity="0.70"/>
<rect x="327" y="46" width="1" height="1" fill="#398ac4" fill-opacity="0.67"/>
<rect x="328" y="46" width="1" height="1" fill="#2f4cb0"/>
<rect x="329" y="46" width="1" height="1" fill="#305ab4" fill-opacity="0.58"/>
<rect x="330" y="46" width="1" height="1" fill="#336bb9" fill-opacity="0.60"/>
<rect x="331" y="46" width="1" height="1" fill="#2f4cb0" fill-opacity="0.91"/>
<rect x="332" y="46" width="1" height="1" fill="#3450b4" fill-opacity="0.41"/>
<rect x="333" y="46" width="1" height="1" fill="#2f57b3" fill-opacity="0.48"/>
<rect x="334" y="46" width="1" height="1" fill="#315fb5" fill-opacity="0.49"/>
<rect x="335" y="46" width="1" height="1" fill="#2f4db1" fill-opacity="0.48"/>
<rect x="341" y="46" width="1" height="1" fill="#6e7fd7" fill-opacity="0.35"/>
<rect x="313" y="47" width="1" height="1" fill="#6c7ed6" fill-opacity="0.40"/>
<rect x="319" y="47" width="1" height="1" fill="#576bce" fill-opacity="0.40"/>
<rect x="322" y="47" width="1" height="1" fill="#2e53b1" fill-opacity="0.54"/>
<rect x="323" y="47" width="1" height="1" fill="#415abe" fill-opacity="0.80"/>
<rect x="324" y="47" width="1" height="1" fill="#3752b6" fill-opacity="0.45"/>
<rect x="325" y="47" width="1" height="1" fill="#3884c2" fill-opacity="0.49"/>
<rect x="326" y="47" width="1" height="1" fill="#2e4cb0" fill-opacity="0.59"/>
<rect x="327" y="47" width="1" height="1" fill="#3652b6" fill-opacity="0.55"/>
<rect x="329" y="47" width="1" height="1" fill="#314eb2" fill-opacity="0.54"/>
<rect x="331" y="47" width="1" height="1" fill="#324fb3" fill-opacity="0.60"/>
<rect x="332" y="47" width="1" height="1" fill="#324eb2" fill-opacity="0.54"/>
<rect x="333" y="47" width="1" height="1" fill="#3885c2"/>
<rect x="334" y="47" width="1" height="1" fill="#3b56ba" fill-opacity="0.80"/>
<rect x="335" y="47" width="1" height="1" fill="#5065c9" fill-opacity="0.52"/>
<rect x="339" y="47" width="1" height="1" fill="#4960c4" fill-opacity="0.35"/>
<rect x="293" y="48" width="1" height="1" fill="#6b7dd5" fill-opacity="0.34"/>
<rect x="295" y="48" width="1" height="1" fill="#6477d3" fill-opacity="0.35"/>
<rect x="321" y="48" width="1" height="1" fill="#415abe" fill-opacity="0.68"/>
<rect x="322" y="48" width="1" height="1" fill="#3450b4" fill-opacity="0.50"/>
<rect x="324" y="48" width="1" height="1" fill="#305cb4" fill-opacity="0.72"/>
<rect x="325" y="48" width="1" height="1" fill="#2f57b3" fill-opacity="0.79"/>
<rect x="326" y="48" width="1" height="1" fill="#4059bd" fill-opacity="0.84"/>
<rect x="327" y="48" width="1" height="1" fill="#2f57b3" fill-opacity="0.79"/>
<rect x="328" y="48" width="1" height="1" fill="#3954b8" fill-opacity="0.68"/>
<rect x="329" y="48" width="1" height="1" fill="#2e54b2" fill-opacity="0.59"/>
<rect x="330" y="48" width="1" height="1" fill="#2e4baf" fill-opacity="0.76"/>
<rect x="331" y="48" width="1" height="1" fill="#3678be" fill-opacity="0.45"/>
<rect x="332" y="48" width="1" height="1" fill="#5166ca" fill-opacity="0.84"/>
<rect x="333" y="48" width="1" height="1" fill="#3d57bb" fill-opacity="0.68"/>
<rect x="334" y="48" width="1" height="1" fill="#435cc0" fill-opacity="0.69"/>
<rect x="336" y="48" width="1" height="1" fill="#5569cd" fill-opacity="0.51"/>
<rect x="337" y="48" width="1" height="1" fill="#455dc1" fill-opacity="0.79"/>
<rect x="341" y="48" width="1" height="1" fill="#7c8cdc" fill-opacity="0.34"/>
<rect x="285" y="49" width="1" height="1" fill="#8494e0" fill-opacity="0.34"/>
<rect x="288" y="49" width="1" height="1" fill="#6476d3" fill-opacity="0.39"/>
<rect x="316" y="49" width="1" height="1" fill="#7485d9" fill-opacity="0.38"/>
<rect x="317" y="49" width="1" height="1" fill="#7687da" fill-opacity="0.44"/>
<rect x="318" y="49" width="1" height="1" fill="#6779d4" fill-opacity="0.46"/>
<rect x="321" y="49" width="1" height="1" fill="#3f58bc" fill-opacity="0.38"/>
<rect x="322" y="49" width="1" height="1" fill="#4e64c8" fill-opacity="0.46"/>
<rect x="323" y="49" width="1" height="1" fill="#324fb3" fill-opacity="0.94"/>
<rect x="325" y="49" width="1" height="1" fill="#3551b5" fill-opacity="0.77"/>
<rect x="327" y="49" width="1" height="1" fill="#3573bc" fill-opacity="0.84"/>
<rect x="328" y="49" width="1" height="1" fill="#2f4cb0" fill-opacity="0.78"/>
<rect x="330" y="49" width="1" height="1" fill="#3780c0" fill-opacity="0.57"/>
<rect x="331" y="49" width="1" height="1" fill="#3651b5" fill-opacity="0.41"/>
<rect x="332" y="49" width="1" height="1" fill="#425abe" fill-opacity="0.69"/>
<rect x="335" y="49" width="1" height="1" fill="#415abe" fill-opacity="0.40"/>
<rect x="336" y="49" width="1" height="1" fill="#4c62c6" fill-opacity="0.50"/>
<rect x="338" y="49" width="1" height="1" fill="#6274d2" fill-opacity="0.51"/>
<rect x="314" y="50" width="1" height="1" fill="#3f58bc" fill-opacity="0.40"/>
<rect x="317" y="50" width="1" height="1" fill="#415abe" fill-opacity="0.47"/>
<rect x="319" y="50" width="1" height="1" fill="#3b56ba" fill-opacity="0.40"/>
<rect x="320" y="50" width="1" height="1" fill="#3450b4" fill-opacity="0.65"/>
<rect x="321" y="50" width="1" height="1" fill="#4c62c6" fill-opacity="0.60"/>
<rect x="322" y="50" width="1" height="1" fill="#3f59bd" fill-opacity="0.45"/>
<rect x="323" y="50" width="1" height="1" fill="#435cc0" fill-opacity="0.48"/>
<rect x="324" y="50" width="1" height="1" fill="#3472bc" fill-opacity="0.68"/>
<rect x="325" y="50" width="1" height="1" fill="#3b92c6" fill-opacity="0.82"/>
<rect x="326" y="50" width="1" height="1" fill="#304db1" fill-opacity="0.47"/>
<rect x="327" y="50" width="1" height="1" fill="#2d4baf" fill-opacity="0.57"/>
<rect x="328" y="50" width="1" height="1" fill="#3450b4" fill-opacity="0.60"/>
<rect x="329" y="50" width="1" height="1" fill="#2d4eb0" fill-opacity="0.70"/>
<rect x="330" y="50" width="1" height="1" fill="#324fb3" fill-opacity="0.85"/>
<rect x="333" y="50" width="1" height="1" fill="#3a54b8" fill-opacity="0.63"/>
<rect x="334" y="50" width="1" height="1" fill="#3a55b9" fill-opacity="0.65"/>
<rect x="340" y="50" width="1" height="1" fill="#6376d2" fill-opacity="0.47"/>
<rect x="297" y="51" width="1" height="1" fill="#7283d8" fill-opacity="0.48"/>
<rect x="300" y="51" width="1" height="1" fill="#586cce" fill-opacity="0.39"/>
<rect x="315" y="51" width="1" height="1" fill="#596cce" fill-opacity="0.38"/>
<rect x="317" y="51" width="1" height="1" fill="#6376d2" fill-opacity="0.52"/>
<rect x="319" y="51" width="1" height="1" fill="#3450b4" fill-opacity="0.44"/>
<rect x="320" y="51" width="1" height="1" fill="#445cc0" fill-opacity="0.56"/>
<rect x="321" y="51" width="1" height="1" fill="#2e4baf" fill-opacity="0.57"/>
<rect x="322" y="51" width="1" height="1" fill="#3752b6" fill-opacity="0.49"/>
<rect x="323" y="51" width="1" height="1" fill="#3780c0" fill-opacity="0.58"/>
<rect x="324" y="51" width="1" height="1" fill="#3989c3" fill-opacity="0.72"/>
<rect x="325" y="51" width="1" height="1" fill="#2e51b1" fill-opacity="0.96"/>
<rect x="326" y="51" width="1" height="1" fill="#2e4baf" fill-opacity="0.57"/>
<rect x="327" y="51" width="1" height="1" fill="#324fb3" fill-opacity="0.81"/>
<rect x="328" y="51" width="1" height="1" fill="#2e53b1" fill-opacity="0.40"/>
<rect x="329" y="51" width="1" height="1" fill="#2d4daf" fill-opacity="0.72"/>
<rect x="331" y="51" width="1" height="1" fill="#7788da" fill-opacity="0.81"/>
<rect x="333" y="51" width="1" height="1" fill="#6476d3" fill-opacity="0.51"/>
<rect x="334" y="51" width="1" height="1" fill="#5468cc" fill-opacity="0.46"/>
<rect x="335" y="51" width="1" height="1" fill="#3651b5" fill-opacity="0.43"/>
<rect x="336" y="51" width="1" height="1" fill="#4f64c8" fill-opacity="0.35"/>
<rect x="339" y="51" width="1" height="1" fill="#8796e1" fill-opacity="0.40"/>
<rect x="317" y="52" width="1" height="1" fill="#566acd" fill-opacity="0.40"/>
<rect x="318" y="52" width="1" height="1" fill="#5e71d0" fill-opacity="0.45"/>
<rect x="320" y="52" width="1" height="1" fill="#485fc3" fill-opacity="0.52"/>
<rect x="321" y="52" width="1" height="1" fill="#4a60c4" fill-opacity="0.57"/>
<rect x="322" y="52" width="1" height="1" fill="#3c56ba" fill-opacity="0.68"/>
<rect x="323" y="52" width="1" height="1" fill="#435bbf" fill-opacity="0.73"/>
<rect x="324" y="52" width="1" height="1" fill="#3652b6" fill-opacity="0.47"/>
<rect x="325" y="52" width="1" height="1" fill="#3954b8" fill-opacity="0.64"/>
<rect x="326" y="52" width="1" height="1" fill="#336ab9" fill-opacity="0.64"/>
<rect x="328" y="52" width="1" height="1" fill="#3954b8" fill-opacity="0.40"/>
<rect x="329" y="52" width="1" height="1" fill="#3450b4" fill-opacity="0.58"/>
<rect x="335" y="52" width="1" height="1" fill="#596dce" fill-opacity="0.36"/>
<rect x="337" y="52" width="1" height="1" fill="#5166ca" fill-opacity="0.47"/>
<rect x="285" y="53" width="1" height="1" fill="#6a7cd5" fill-opacity="0.41"/>
<rect x="292" y="53" width="1" height="1" fill="#798adb" fill-opacity="0.43"/>
<rect x="297" y="53" width="1" height="1" fill="#5a6ecf" fill-opacity="0.37"/>
<rect x="312" y="53" width="1" height="1" fill="#6d7fd6" fill-opacity="0.36"/>
<rect x="320" y="53" width="1" height="1" fill="#3573bc" fill-opacity="0.38"/>
<rect x="322" y="53" width="1" height="1" fill="#3350b4" fill-opacity="0.67"/>
<rect x="323" y="53" width="1" height="1" fill="#324fb3" fill-opacity="0.53"/>
<rect x="325" y="53" width="1" height="1" fill="#2d4eb0" fill-opacity="0.61"/>
<rect x="326" y="53" width="1" height="1" fill="#367bbf" fill-opacity="0.75"/>
<rect x="327" y="53" width="1" height="1" fill="#2d4daf" fill-opacity="0.43"/>
<rect x="328" y="53" width="1" height="1" fill="#3954b8" fill-opacity="0.69"/>
<rect x="329" y="53" width="1" height="1" fill="#4960c4" fill-opacity="0.55"/>
<rect x="330" y="53" width="1" height="1" fill="#3267b8" fill-opacity="0.45"/>
<rect x="331" y="53" width="1" height="1" fill="#2d4baf" fill-opacity="0.56"/>
<rect x="333" y="53" width="1" height="1" fill="#2e4cb0" fill-opacity="0.62"/>
<rect x="334" y="53" width="1" height="1" fill="#4a61c5" fill-opacity="0.53"/>
<rect x="286" y="54" width="1" height="1" fill="#8392df" fill-opacity="0.37"/>
<rect x="312" y="54" width="1" height="1" fill="#6476d3" fill-opacity="0.45"/>
<rect x="314" y="54" width="1" height="1" fill="#7b8bdc" fill-opacity="0.51"/>
<rect x="318" y="54" width="1" height="1" fill="#5569cd" fill-opacity="0.51"/>
<rect x="319" y="54" width="1" height="1" fill="#334fb3" fill-opacity="0.51"/>
<rect x="320" y="54" width="1" height="1" fill="#485fc3" fill-opacity="0.64"/>
<rect x="321" y="54" width="1" height="1" fill="#4e64c8" fill-opacity="0.57"/>
<rect x="322" y="54" width="1" height="1" fill="#3853b7" fill-opacity="0.65"/>
<rect x="324" y="54" width="1" height="1" fill="#4d63c7" fill-opacity="0.40"/>
<rect x="325" y="54" width="1" height="1" fill="#305ab4" fill-opacity="0.55"/>
<rect x="326" y="54" width="1" height="1" fill="#3b55b9" fill-opacity="0.65"/>
<rect x="327" y="54" width="1" height="1" fill="#3679be"/>
<rect x="329" y="54" width="1" height="1" fill="#4b61c5" fill-opacity="0.74"/>
<rect x="330" y="54" width="1" height="1" fill="#4c62c6" fill-opacity="0.68"/>
<rect x="331" y="54" width="1" height="1" fill="#465dc1" fill-opacity="0.65"/>
<rect x="333" y="54" width="1" height="1" fill="#7485d9" fill-opacity="0.53"/>
<rect x="334" y="54" width="1" height="1" fill="#5f72d1" fill-opacity="0.89"/>
<rect x="291" y="55" width="1" height="1" fill="#7384d9" fill-opacity="0.52"/>
<rect x="317" y="55" width="1" height="1" fill="#4f64c8" fill-opacity="0.52"/>
<rect x="318" y="55" width="1" height="1" fill="#5367cb" fill-opacity="0.67"/>
<rect x="320" y="55" width="1" height="1" fill="#3c56ba" fill-opacity="0.56"/>
<rect x="321" y="55" width="1" height="1" fill="#3d57bb" fill-opacity="0.50"/>
<rect x="323" y="55" width="1" height="1" fill="#3b55b9" fill-opacity="0.63"/>
<rect x="324" y="55" width="1" height="1" fill="#445cc0" fill-opacity="0.53"/>
<rect x="325" y="55" width="1" height="1" fill="#3551b5" fill-opacity="0.96"/>
<rect x="326" y="55" width="1" height="1" fill="#336ab9" fill-opacity="0.59"/>
<rect x="327" y="55" width="1" height="1" fill="#3163b7" fill-opacity="0.62"/>
<rect x="329" y="55" width="1" height="1" fill="#2d4baf" fill-opacity="0.82"/>
<rect x="331" y="55" width="1" height="1" fill="#4a61c5" fill-opacity="0.62"/>
<rect x="337" y="55" width="1" height="1" fill="#5367cb" fill-opacity="0.52"/>
<rect x="320" y="56" width="1" height="1" fill="#5569cd" fill-opacity="0.40"/>
<rect x="321" y="56" width="1" height="1" fill="#465dc1" fill-opacity="0.42"/>
<rect x="322" y="56" width="1" height="1" fill="#2f55b2" fill-opacity="0.55"/>
<rect x="323" y="56" width="1" height="1" fill="#5d70d0" fill-opacity="0.38"/>
<rect x="325" y="56" width="1" height="1" fill="#334fb3" fill-opacity="0.52"/>
<rect x="326" y="56" width="1" height="1" fill="#2f59b3" fill-opacity="0.47"/>
<rect x="327" y="56" width="1" height="1" fill="#3954b8" fill-opacity="0.51"/>
<rect x="328" y="56" width="1" height="1" fill="#5267cb" fill-opacity="0.67"/>
<rect x="329" y="56" width="1" height="1" fill="#2e52b1" fill-opacity="0.57"/>
<rect x="330" y="56" width="1" height="1" fill="#305ab4" fill-opacity="0.68"/>
<rect x="332" y="56" width="1" height="1" fill="#2e51b1" fill-opacity="0.63"/>
<rect x="333" y="56" width="1" height="1" fill="#596cce" fill-opacity="0.58"/>
<rect x="334" y="56" width="1" height="1" fill="#6a7cd5" fill-opacity="0.62"/>
<rect x="316" y="57" width="1" height="1" fill="#6375d2" fill-opacity="0.49"/>
<rect x="320" y="57" width="1" height="1" fill="#334fb3" fill-opacity="0.49"/>
<rect x="324" y="57" width="1" height="1" fill="#3e58bc" fill-opacity="0.77"/>
<rect x="327" y="57" width="1" height="1" fill="#2f58b3" fill-opacity="0.52"/>
<rect x="328" y="57" width="1" height="1" fill="#4059bd" fill-opacity="0.46"/>
<rect x="330" y="57" width="1" height="1" fill="#2e4cb0" fill-opacity="0.41"/>
<rect x="331" y="57" width="1" height="1" fill="#304db1" fill-opacity="0.38"/>
<rect x="332" y="57" width="1" height="1" fill="#485fc3" fill-opacity="0.37"/>
<rect x="334" y="57" width="1" height="1" fill="#3551b5" fill-opacity="0.50"/>
<rect x="322" y="58" width="1" height="1" fill="#5166ca" fill-opacity="0.47"/>
<rect x="324" y="58" width="1" height="1" fill="#3369b9" fill-opacity="0.41"/>
<rect x="325" y="58" width="1" height="1" fill="#425bbf"/>
<rect x="326" y="58" width="1" height="1" fill="#4a61c5" fill-opacity="0.55"/>
<rect x="327" y="58" width="1" height="1" fill="#5368cc" fill-opacity="0.51"/>
<rect x="328" y="58" width="1" height="1" fill="#305eb5" fill-opacity="0.55"/>
<rect x="329" y="58" width="1" height="1" fill="#304db1" fill-opacity="0.45"/>
<rect x="330" y="58" width="1" height="1" fill="#3b55b9" fill-opacity="0.91"/>
<rect x="331" y="58" width="1" height="1" fill="#465dc1" fill-opacity="0.58"/>
<rect x="332" y="58" width="1" height="1" fill="#4a61c5" fill-opacity="0.40"/>
<rect x="284" y="59" width="1" height="1" fill="#5367cb" fill-opacity="0.38"/>
<rect x="287" y="59" width="1" height="1" fill="#6679d4" fill-opacity="0.35"/>
<rect x="315" y="59" width="1" height="1" fill="#8796e1" fill-opacity="0.39"/>
<rect x="324" y="59" width="1" height="1" fill="#5569cd" fill-opacity="0.55"/>
<rect x="325" y="59" width="1" height="1" fill="#5367cb" fill-opacity="0.50"/>
<rect x="327" y="59" width="1" height="1" fill="#324fb3" fill-opacity="0.78"/>
<rect x="328" y="59" width="1" height="1" fill="#3350b4" fill-opacity="0.60"/>
<rect x="329" y="59" width="1" height="1" fill="#305bb4" fill-opacity="0.73"/>
<rect x="330" y="59" width="1" height="1" fill="#3d57bb" fill-opacity="0.70"/>
<rect x="331" y="59" width="1" height="1" fill="#415abe" fill-opacity="0.57"/>
<rect x="332" y="59" width="1" height="1" fill="#4d63c7" fill-opacity="0.42"/>
<rect x="334" y="59" width="1" height="1" fill="#4960c4" fill-opacity="0.37"/>
<rect x="283" y="60" width="1" height="1" fill="#8594e0" fill-opacity="0.41"/>
<rect x="299" y="60" width="1" height="1" fill="#7d8ddd" fill-opacity="0.43"/>
<rect x="313" y="60" width="1" height="1" fill="#8796e1" fill-opacity="0.46"/>
<rect x="319" y="60" width="1" height="1" fill="#5a6ecf" fill-opacity="0.38"/>
<rect x="321" y="60" width="1" height="1" fill="#7788da" fill-opacity="0.58"/>
<rect x="323" y="60" width="1" height="1" fill="#5468cc" fill-opacity="0.52"/>
<rect x="324" y="60" width="1" height="1" fill="#455dc1" fill-opacity="0.47"/>
<rect x="326" y="60" width="1" height="1" fill="#425bbf" fill-opacity="0.54"/>
<rect x="327" y="60" width="1" height="1" fill="#6073d1" fill-opacity="0.43"/>
<rect x="328" y="60" width="1" height="1" fill="#304db1" fill-opacity="0.56"/>
<rect x="329" y="60" width="1" height="1" fill="#2d4caf" fill-opacity="0.53"/>
<rect x="330" y="60" width="1" height="1" fill="#3954b8" fill-opacity="0.40"/>
<rect x="331" y="60" width="1" height="1" fill="#465ec2" fill-opacity="0.55"/>
<rect x="332" y="60" width="1" height="1" fill="#475ec2" fill-opacity="0.39"/>
<rect x="333" y="60" width="1" height="1" fill="#2e52b1" fill-opacity="0.50"/>
<rect x="335" y="60" width="1" height="1" fill="#6d7ed6" fill-opacity="0.34"/>
<rect x="323" y="61" width="1" height="1" fill="#6275d2" fill-opacity="0.51"/>
<rect x="324" y="61" width="1" height="1" fill="#3c56ba" fill-opacity="0.38"/>
<rect x="325" y="61" width="1" height="1" fill="#305ab4" fill-opacity="0.46"/>
<rect x="326" y="61" width="1" height="1" fill="#2d4baf" fill-opacity="0.54"/>
<rect x="328" y="61" width="1" height="1" fill="#3b55b9" fill-opacity="0.51"/>
<rect x="330" y="61" width="1" height="1" fill="#7888db" fill-opacity="0.55"/>
<rect x="332" y="61" width="1" height="1" fill="#2d4baf" fill-opacity="0.40"/>
<rect x="333" y="61" width="1" height="1" fill="#566acd" fill-opacity="0.65"/>
<rect x="335" y="61" width="1" height="1" fill="#5266ca" fill-opacity="0.41"/>
<rect x="297" y="62" width="1" height="1" fill="#8796e1" fill-opacity="0.42"/>
<rect x="325" y="62" width="1" height="1" fill="#3954b8" fill-opacity="0.43"/>
<rect x="326" y="62" width="1" height="1" fill="#4059bd" fill-opacity="0.52"/>
<rect x="327" y="62" width="1" height="1" fill="#2f59b3" fill-opacity="0.79"/>
<rect x="328" y="62" width="1" height="1" fill="#697bd5" fill-opacity="0.43"/>
<rect x="329" y="62" width="1" height="1" fill="#3853b7" fill-opacity="0.56"/>
<rect x="330" y="62" width="1" height="1" fill="#455dc1" fill-opacity="0.46"/>
<rect x="326" y="63" width="1" height="1" fill="#445cc0" fill-opacity="0.39"/>
<rect x="327" y="63" width="1" height="1" fill="#3853b7" fill-opacity="0.56"/>
<rect x="328" y="63" width="1" height="1" fill="#3f59bd" fill-opacity="0.55"/>
<rect x="329" y="63" width="1" height="1" fill="#324fb3" fill-opacity="0.62"/>
<rect x="331" y="63" width="1" height="1" fill="#6174d2" fill-opacity="0.36"/>
<rect x="332" y="63" width="1" height="1" fill="#485fc3" fill-opacity="0.43"/>
<rect x="335" y="63" width="1" height="1" fill="#4a61c5" fill-opacity="0.52"/>
<rect x="353" y="63" width="1" height="1" fill="#8796e1" fill-opacity="0.33"/>
<rect x="324" y="64" width="1" height="1" fill="#3450b4" fill-opacity="0.49"/>
<rect x="326" y="64" width="1" height="1" fill="#435cc0" fill-opacity="0.62"/>
<rect x="328" y="64" width="1" height="1" fill="#465ec2" fill-opacity="0.81"/>
<rect x="330" y="64" width="1" height="1" fill="#3e57bb" fill-opacity="0.39"/>
<rect x="331" y="64" width="1" height="1" fill="#455dc1" fill-opacity="0.43"/>
<rect x="332" y="64" width="1" height="1" fill="#4c62c6" fill-opacity="0.55"/>
<rect x="333" y="64" width="1" height="1" fill="#7586d9" fill-opacity="0.45"/>
<rect x="320" y="65" width="1" height="1" fill="#5669cd" fill-opacity="0.43"/>
<rect x="321" y="65" width="1" height="1" fill="#5065c9" fill-opacity="0.50"/>
<rect x="322" y="65" width="1" height="1" fill="#6b7dd5" fill-opacity="0.48"/>
<rect x="326" y="65" width="1" height="1" fill="#2e54b2" fill-opacity="0.56"/>
<rect x="328" y="65" width="1" height="1" fill="#4059bd" fill-opacity="0.54"/>
<rect x="329" y="65" width="1" height="1" fill="#3c56ba" fill-opacity="0.59"/>
<rect x="334" y="65" width="1" height="1" fill="#7182d8" fill-opacity="0.48"/>
<rect x="335" y="65" width="1" height="1" fill="#5065c9" fill-opacity="0.50"/>
<rect x="336" y="65" width="1" height="1" fill="#7787da" fill-opacity="0.47"/>
<rect x="323" y="66" width="1" height="1" fill="#7283d8" fill-opacity="0.53"/>
<rect x="325" y="66" width="1" height="1" fill="#4a60c4" fill-opacity="0.37"/>
<rect x="326" y="66" width="1" height="1" fill="#314eb2" fill-opacity="0.55"/>
<rect x="328" y="66" width="1" height="1" fill="#4a61c5" fill-opacity="0.58"/>
<rect x="329" y="66" width="1" height="1" fill="#5368cc" fill-opacity="0.45"/>
<rect x="333" y="66" width="1" height="1" fill="#3f58bc" fill-opacity="0.51"/>
<rect x="335" y="66" width="1" height="1" fill="#475ec2" fill-opacity="0.52"/>
<rect x="322" y="67" width="1" height="1" fill="#576acd" fill-opacity="0.51"/>
<rect x="325" y="67" width="1" height="1" fill="#465ec2" fill-opacity="0.53"/>
<rect x="326" y="67" width="1" height="1" fill="#566acd" fill-opacity="0.50"/>
<rect x="328" y="67" width="1" height="1" fill="#5367cb" fill-opacity="0.64"/>
<rect x="332" y="67" width="1" height="1" fill="#6a7cd5" fill-opacity="0.44"/>
<rect x="334" y="67" width="1" height="1" fill="#586cce" fill-opacity="0.37"/>
<rect x="296" y="68" width="1" height="1" fill="#6174d2" fill-opacity="0.36"/>
<rect x="322" y="68" width="1" height="1" fill="#5c6fcf" fill-opacity="0.37"/>
<rect x="323" y="68" width="1" height="1" fill="#5166ca" fill-opacity="0.54"/>
<rect x="325" y="68" width="1" height="1" fill="#3e58bc" fill-opacity="0.36"/>
<rect x="327" y="68" width="1" height="1" fill="#6275d2" fill-opacity="0.59"/>
<rect x="328" y="68" width="1" height="1" fill="#2d4baf" fill-opacity="0.53"/>
<rect x="329" y="68" width="1" height="1" fill="#3853b7" fill-opacity="0.68"/>
<rect x="330" y="68" width="1" height="1" fill="#5267cb" fill-opacity="0.67"/>
<rect x="331" y="68" width="1" height="1" fill="#4b62c6" fill-opacity="0.61"/>
<rect x="334" y="68" width="1" height="1" fill="#6e7fd7" fill-opacity="0.60"/>
<rect x="292" y="69" width="1" height="1" fill="#6578d3" fill-opacity="0.36"/>
<rect x="320" y="69" width="1" height="1" fill="#6477d3" fill-opacity="0.35"/>
<rect x="322" y="69" width="1" height="1" fill="#5a6dcf" fill-opacity="0.42"/>
<rect x="324" y="69" width="1" height="1" fill="#6275d2" fill-opacity="0.53"/>
<rect x="325" y="69" width="1" height="1" fill="#4059bd" fill-opacity="0.51"/>
<rect x="327" y="69" width="1" height="1" fill="#324fb3" fill-opacity="0.57"/>
<rect x="328" y="69" width="1" height="1" fill="#2d4baf" fill-opacity="0.39"/>
<rect x="330" y="69" width="1" height="1" fill="#5569cd" fill-opacity="0.74"/>
<rect x="332" y="69" width="1" height="1" fill="#4c62c6" fill-opacity="0.40"/>
<rect x="336" y="69" width="1" height="1" fill="#6477d3" fill-opacity="0.44"/>
<rect x="321" y="70" width="1" height="1" fill="#4c62c6" fill-opacity="0.41"/>
<rect x="326" y="70" width="1" height="1" fill="#2e4baf" fill-opacity="0.42"/>
<rect x="327" y="70" width="1" height="1" fill="#2d4baf" fill-opacity="0.56"/>
<rect x="328" y="70" width="1" height="1" fill="#3163b7" fill-opacity="0.82"/>
<rect x="333" y="70" width="1" height="1" fill="#415abe" fill-opacity="0.54"/>
<rect x="334" y="70" width="1" height="1" fill="#3267b8" fill-opacity="0.63"/>
<rect x="336" y="70" width="1" height="1" fill="#5a6ecf" fill-opacity="0.40"/>
<rect x="298" y="71" width="1" height="1" fill="#6174d1" fill-opacity="0.44"/>
<rect x="300" y="71" width="1" height="1" fill="#7d8ddd" fill-opacity="0.50"/>
<rect x="302" y="71" width="1" height="1" fill="#6678d4" fill-opacity="0.47"/>
<rect x="323" y="71" width="1" height="1" fill="#435bbf" fill-opacity="0.53"/>
<rect x="324" y="71" width="1" height="1" fill="#2d4baf" fill-opacity="0.54"/>
<rect x="325" y="71" width="1" height="1" fill="#324fb3" fill-opacity="0.64"/>
<rect x="326" y="71" width="1" height="1" fill="#455dc1" fill-opacity="0.46"/>
<rect x="327" y="71" width="1" height="1" fill="#2d4baf" fill-opacity="0.65"/>
<rect x="328" y="71" width="1" height="1" fill="#2f55b2" fill-opacity="0.88"/>
<rect x="329" y="71" width="1" height="1" fill="#336ab9" fill-opacity="0.96"/>
<rect x="330" y="71" width="1" height="1" fill="#2e50b0" fill-opacity="0.69"/>
<rect x="332" y="71" width="1" height="1" fill="#3a55b9" fill-opacity="0.77"/>
<rect x="333" y="71" width="1" height="1" fill="#3652b6" fill-opacity="0.53"/>
<rect x="334" y="71" width="1" height="1" fill="#3d57bb" fill-opacity="0.48"/>
<rect x="335" y="71" width="1" height="1" fill="#596dce" fill-opacity="0.37"/>
<rect x="336" y="71" width="1" height="1" fill="#6073d1" fill-opacity="0.42"/>
<rect x="293" y="72" width="1" height="1" fill="#5b6fcf" fill-opacity="0.37"/>
<rect x="294" y="72" width="1" height="1" fill="#485fc3" fill-opacity="0.46"/>
<rect x="295" y="72" width="1" height="1" fill="#5267cb" fill-opacity="0.50"/>
<rect x="296" y="72" width="1" height="1" fill="#5569cd" fill-opacity="0.50"/>
<rect x="298" y="72" width="1" height="1" fill="#5266ca" fill-opacity="0.48"/>
<rect x="324" y="72" width="1" height="1" fill="#314eb2" fill-opacity="0.56"/>
<rect x="325" y="72" width="1" height="1" fill="#445cc0" fill-opacity="0.57"/>
<rect x="326" y="72" width="1" height="1" fill="#2f4cb0" fill-opacity="0.79"/>
<rect x="329" y="72" width="1" height="1" fill="#3c96c6" fill-opacity="0.54"/>
<rect x="330" y="72" width="1" height="1" fill="#336dba" fill-opacity="0.71"/>
<rect x="332" y="72" width="1" height="1" fill="#3954b8" fill-opacity="0.91"/>
<rect x="333" y="72" width="1" height="1" fill="#5468cc" fill-opacity="0.60"/>
<rect x="334" y="72" width="1" height="1" fill="#3752b6" fill-opacity="0.51"/>
<rect x="335" y="72" width="1" height="1" fill="#455dc1" fill-opacity="0.48"/>
<rect x="338" y="72" width="1" height="1" fill="#3e57bb" fill-opacity="0.48"/>
<rect x="285" y="73" width="1" height="1" fill="#7b8bdc" fill-opacity="0.42"/>
<rect x="291" y="73" width="1" height="1" fill="#4a61c5" fill-opacity="0.38"/>
<rect x="296" y="73" width="1" height="1" fill="#3e58bc" fill-opacity="0.44"/>
<rect x="297" y="73" width="1" height="1" fill="#4960c4" fill-opacity="0.45"/>
<rect x="299" y="73" width="1" height="1" fill="#7484d9" fill-opacity="0.48"/>
<rect x="303" y="73" width="1" height="1" fill="#6c7ed6" fill-opacity="0.37"/>
<rect x="320" y="73" width="1" height="1" fill="#576bce" fill-opacity="0.49"/>
<rect x="321" y="73" width="1" height="1" fill="#475fc3" fill-opacity="0.52"/>
<rect x="322" y="73" width="1" height="1" fill="#2d4caf" fill-opacity="0.54"/>
<rect x="323" y="73" width="1" height="1" fill="#445cc0" fill-opacity="0.70"/>
<rect x="325" y="73" width="1" height="1" fill="#3b94c7" fill-opacity="0.51"/>
<rect x="326" y="73" width="1" height="1" fill="#46a29f" fill-opacity="0.95"/>
<rect x="327" y="73" width="1" height="1" fill="#3e98bf" fill-opacity="0.49"/>
<rect x="328" y="73" width="1" height="1" fill="#3679be" fill-opacity="0.93"/>
<rect x="329" y="73" width="1" height="1" fill="#4ba88b" fill-opacity="0.94"/>
<rect x="330" y="73" width="1" height="1" fill="#3b91c6" fill-opacity="0.98"/>
<rect x="331" y="73" width="1" height="1" fill="#334fb3"/>
<rect x="332" y="73" width="1" height="1" fill="#2e4cb0" fill-opacity="0.49"/>
<rect x="333" y="73" width="1" height="1" fill="#315fb5" fill-opacity="0.81"/>
<rect x="334" y="73" width="1" height="1" fill="#304db1" fill-opacity="0.47"/>
<rect x="336" y="73" width="1" height="1" fill="#4059bd" fill-opacity="0.47"/>
<rect x="342" y="73" width="1" height="1" fill="#6275d2" fill-opacity="0.45"/>
<rect x="286" y="74" width="1" height="1" fill="#6d7fd6" fill-opacity="0.41"/>
<rect x="289" y="74" width="1" height="1" fill="#5267cb" fill-opacity="0.48"/>
<rect x="290" y="74" width="1" height="1" fill="#425abe" fill-opacity="0.66"/>
<rect x="296" y="74" width="1" height="1" fill="#2f4cb0" fill-opacity="0.40"/>
<rect x="298" y="74" width="1" height="1" fill="#475fc3" fill-opacity="0.36"/>
<rect x="319" y="74" width="1" height="1" fill="#3753b7" fill-opacity="0.38"/>
<rect x="320" y="74" width="1" height="1" fill="#3954b8" fill-opacity="0.69"/>
<rect x="321" y="74" width="1" height="1" fill="#3c56ba" fill-opacity="0.54"/>
<rect x="323" y="74" width="1" height="1" fill="#2f59b3"/>
<rect x="324" y="74" width="1" height="1" fill="#2f55b2"/>
<rect x="325" y="74" width="1" height="1" fill="#3b92c6" fill-opacity="0.86"/>
<rect x="326" y="74" width="1" height="1" fill="#429daf"/>
<rect x="327" y="74" width="1" height="1" fill="#3a8cc4"/>
<rect x="328" y="74" width="1" height="1" fill="#3266b8" fill-opacity="0.76"/>
<rect x="329" y="74" width="1" height="1" fill="#2f56b2"/>
<rect x="330" y="74" width="1" height="1" fill="#2e52b1"/>
<rect x="331" y="74" width="1" height="1" fill="#48a594" fill-opacity="0.73"/>
<rect x="332" y="74" width="1" height="1" fill="#449fa6" fill-opacity="0.84"/>
<rect x="334" y="74" width="1" height="1" fill="#336ab9"/>
<rect x="335" y="74" width="1" height="1" fill="#2f4cb0" fill-opacity="0.57"/>
<rect x="336" y="74" width="1" height="1" fill="#3c56ba" fill-opacity="0.37"/>
<rect x="338" y="74" width="1" height="1" fill="#7484d9" fill-opacity="0.48"/>
<rect x="286" y="75" width="1" height="1" fill="#2e4baf" fill-opacity="0.35"/>
<rect x="289" y="75" width="1" height="1" fill="#3d57bb" fill-opacity="0.52"/>
<rect x="291" y="75" width="1" height="1" fill="#334fb3" fill-opacity="0.71"/>
<rect x="292" y="75" width="1" height="1" fill="#3d57bb" fill-opacity="0.40"/>
<rect x="293" y="75" width="1" height="1" fill="#4f65c9" fill-opacity="0.47"/>
<rect x="294" y="75" width="1" height="1" fill="#3652b6" fill-opacity="0.60"/>
<rect x="295" y="75" width="1" height="1" fill="#2e4cb0" fill-opacity="0.55"/>
<rect x="319" y="75" width="1" height="1" fill="#3f58bc" fill-opacity="0.44"/>
<rect x="322" y="75" width="1" height="1" fill="#3d57bb" fill-opacity="0.64"/>
<rect x="323" y="75" width="1" height="1" fill="#3b55b9"/>
<rect x="324" y="75" width="1" height="1" fill="#4eac7d"/>
<rect x="325" y="75" width="1" height="1" fill="#4eac7c"/>
<rect x="326" y="75" width="1" height="1" fill="#3882c1" fill-opacity="0.82"/>
<rect x="327" y="75" width="1" height="1" fill="#439eaa"/>
<rect x="328" y="75" width="1" height="1" fill="#6fbc4f"/>
<rect x="329" y="75" width="1" height="1" fill="#3f9ab9" fill-opacity="0.89"/>
<rect x="330" y="75" width="1" height="1" fill="#3b93c7" fill-opacity="0.94"/>
<rect x="331" y="75" width="1" height="1" fill="#3b91c6"/>
<rect x="332" y="75" width="1" height="1" fill="#3886c2" fill-opacity="0.77"/>
<rect x="333" y="75" width="1" height="1" fill="#305eb5" fill-opacity="0.73"/>
<rect x="334" y="75" width="1" height="1" fill="#346fbb" fill-opacity="0.77"/>
<rect x="335" y="75" width="1" height="1" fill="#3a55b9" fill-opacity="0.48"/>
<rect x="336" y="75" width="1" height="1" fill="#4b62c6" fill-opacity="0.73"/>
<rect x="338" y="75" width="1" height="1" fill="#7b8bdc" fill-opacity="0.48"/>
<rect x="340" y="75" width="1" height="1" fill="#576bce" fill-opacity="0.47"/>
<rect x="342" y="75" width="1" height="1" fill="#3b55b9" fill-opacity="0.43"/>
<rect x="350" y="75" width="1" height="1" fill="#677ad4" fill-opacity="0.35"/>
<rect x="283" y="76" width="1" height="1" fill="#4c62c6" fill-opacity="0.34"/>
<rect x="288" y="76" width="1" height="1" fill="#2f55b2" fill-opacity="0.56"/>
<rect x="289" y="76" width="1" height="1" fill="#3265b7" fill-opacity="0.66"/>
<rect x="291" y="76" width="1" height="1" fill="#4059bd" fill-opacity="0.55"/>
<rect x="292" y="76" width="1" height="1" fill="#2d4fb0" fill-opacity="0.83"/>
<rect x="293" y="76" width="1" height="1" fill="#2d4eb0" fill-opacity="0.50"/>
<rect x="294" y="76" width="1" height="1" fill="#3369b9" fill-opacity="0.55"/>
<rect x="295" y="76" width="1" height="1" fill="#3651b5" fill-opacity="0.75"/>
<rect x="296" y="76" width="1" height="1" fill="#586cce" fill-opacity="0.55"/>
<rect x="298" y="76" width="1" height="1" fill="#7888db" fill-opacity="0.63"/>
<rect x="316" y="76" width="1" height="1" fill="#586bce" fill-opacity="0.50"/>
<rect x="317" y="76" width="1" height="1" fill="#4c62c6" fill-opacity="0.45"/>
<rect x="318" y="76" width="1" height="1" fill="#315fb5" fill-opacity="0.39"/>
<rect x="319" y="76" width="1" height="1" fill="#5367cb" fill-opacity="0.53"/>
<rect x="322" y="76" width="1" height="1" fill="#2f4cb0" fill-opacity="0.68"/>
<rect x="324" y="76" width="1" height="1" fill="#3883c1" fill-opacity="0.78"/>
<rect x="325" y="76" width="1" height="1" fill="#5db65d" fill-opacity="0.68"/>
<rect x="326" y="76" width="1" height="1" fill="#45a1a0"/>
<rect x="327" y="76" width="1" height="1" fill="#49a592"/>
<rect x="328" y="76" width="1" height="1" fill="#4fad79"/>
<rect x="329" y="76" width="1" height="1" fill="#314eb2"/>
<rect x="330" y="76" width="1" height="1" fill="#4ca987" fill-opacity="0.90"/>
<rect x="331" y="76" width="1" height="1" fill="#3a8ec5" fill-opacity="0.66"/>
<rect x="332" y="76" width="1" height="1" fill="#3a8dc5" fill-opacity="0.64"/>
<rect x="333" y="76" width="1" height="1" fill="#4059bd" fill-opacity="0.76"/>
<rect x="334" y="76" width="1" height="1" fill="#3472bc" fill-opacity="0.56"/>
<rect x="335" y="76" width="1" height="1" fill="#2d4daf" fill-opacity="0.48"/>
<rect x="341" y="76" width="1" height="1" fill="#2f4db1" fill-opacity="0.56"/>
<rect x="285" y="77" width="1" height="1" fill="#3652b6" fill-opacity="0.41"/>
<rect x="287" y="77" width="1" height="1" fill="#439eab" fill-opacity="0.69"/>
<rect x="288" y="77" width="1" height="1" fill="#45a1a1" fill-opacity="0.74"/>
<rect x="290" y="77" width="1" height="1" fill="#429daf" fill-opacity="0.88"/>
<rect x="291" y="77" width="1" height="1" fill="#3161b6"/>
<rect x="292" y="77" width="1" height="1" fill="#47a39b" fill-opacity="0.80"/>
<rect x="293" y="77" width="1" height="1" fill="#3882c1" fill-opacity="0.64"/>
<rect x="294" y="77" width="1" height="1" fill="#419cb2"/>
<rect x="295" y="77" width="1" height="1" fill="#2e54b2" fill-opacity="0.81"/>
<rect x="296" y="77" width="1" height="1" fill="#4f65c9" fill-opacity="0.50"/>
<rect x="301" y="77" width="1" height="1" fill="#6678d4" fill-opacity="0.46"/>
<rect x="303" y="77" width="1" height="1" fill="#687ad4" fill-opacity="0.49"/>
<rect x="313" y="77" width="1" height="1" fill="#5267cb" fill-opacity="0.49"/>
<rect x="315" y="77" width="1" height="1" fill="#425abe" fill-opacity="0.43"/>
<rect x="316" y="77" width="1" height="1" fill="#485fc3" fill-opacity="0.42"/>
<rect x="319" y="77" width="1" height="1" fill="#5267cb" fill-opacity="0.56"/>
<rect x="320" y="77" width="1" height="1" fill="#445cc0" fill-opacity="0.83"/>
<rect x="321" y="77" width="1" height="1" fill="#2f56b2" fill-opacity="0.59"/>
<rect x="322" y="77" width="1" height="1" fill="#336cba" fill-opacity="0.80"/>
<rect x="324" y="77" width="1" height="1" fill="#4ba88a" fill-opacity="0.63"/>
<rect x="325" y="77" width="1" height="1" fill="#47a39a"/>
<rect x="326" y="77" width="1" height="1" fill="#59b560"/>
<rect x="327" y="77" width="1" height="1" fill="#4eac7c"/>
<rect x="328" y="77" width="1" height="1" fill="#45a1a1"/>
<rect x="329" y="77" width="1" height="1" fill="#64b858" fill-opacity="0.88"/>
<rect x="330" y="77" width="1" height="1" fill="#3d98c0"/>
<rect x="331" y="77" width="1" height="1" fill="#3886c2" fill-opacity="0.86"/>
<rect x="332" y="77" width="1" height="1" fill="#367abe" fill-opacity="0.59"/>
<rect x="333" y="77" width="1" height="1" fill="#3781c1" fill-opacity="0.70"/>
<rect x="334" y="77" width="1" height="1" fill="#3350b4" fill-opacity="0.47"/>
<rect x="335" y="77" width="1" height="1" fill="#3752b6" fill-opacity="0.55"/>
<rect x="336" y="77" width="1" height="1" fill="#4f65c9" fill-opacity="0.50"/>
<rect x="340" y="77" width="1" height="1" fill="#5266ca" fill-opacity="0.41"/>
<rect x="342" y="77" width="1" height="1" fill="#8796e1" fill-opacity="0.47"/>
<rect x="343" y="77" width="1" height="1" fill="#7182d8" fill-opacity="0.41"/>
<rect x="280" y="78" width="1" height="1" fill="#7485d9" fill-opacity="0.39"/>
<rect x="284" y="78" width="1" height="1" fill="#304db1" fill-opacity="0.59"/>
<rect x="285" y="78" width="1" height="1" fill="#346eba" fill-opacity="0.80"/>
<rect x="286" y="78" width="1" height="1" fill="#4fad7b" fill-opacity="0.54"/>
<rect x="287" y="78" width="1" height="1" fill="#5db65d"/>
<rect x="288" y="78" width="1" height="1" fill="#4ba988"/>
<rect x="289" y="78" width="1" height="1" fill="#6ebb50"/>
<rect x="290" y="78" width="1" height="1" fill="#96c831"/>
<rect x="291" y="78" width="1" height="1" fill="#4caa84"/>
<rect x="292" y="78" width="1" height="1" fill="#46a29e"/>
<rect x="293" y="78" width="1" height="1" fill="#45a1a2" fill-opacity="0.81"/>
<rect x="294" y="78" width="1" height="1" fill="#2d4baf"/>
<rect x="295" y="78" width="1" height="1" fill="#2f55b2" fill-opacity="0.84"/>
<rect x="296" y="78" width="1" height="1" fill="#3163b7" fill-opacity="0.70"/>
<rect x="298" y="78" width="1" height="1" fill="#3450b4" fill-opacity="0.51"/>
<rect x="306" y="78" width="1" height="1" fill="#7283d8" fill-opacity="0.44"/>
<rect x="314" y="78" width="1" height="1" fill="#3652b6" fill-opacity="0.36"/>
<rect x="315" y="78" width="1" height="1" fill="#576bce" fill-opacity="0.62"/>
<rect x="317" y="78" width="1" height="1" fill="#3472bc" fill-opacity="0.45"/>
<rect x="318" y="78" width="1" height="1" fill="#2e4cb0" fill-opacity="0.85"/>
<rect x="319" y="78" width="1" height="1" fill="#324fb3" fill-opacity="0.60"/>
<rect x="320" y="78" width="1" height="1" fill="#2e4baf" fill-opacity="0.49"/>
<rect x="321" y="78" width="1" height="1" fill="#377ec0"/>
<rect x="322" y="78" width="1" height="1" fill="#46a29f" fill-opacity="0.67"/>
<rect x="323" y="78" width="1" height="1" fill="#429dae" fill-opacity="0.98"/>
<rect x="324" y="78" width="1" height="1" fill="#4fad78"/>
<rect x="325" y="78" width="1" height="1" fill="#53b269" fill-opacity="0.79"/>
<rect x="326" y="78" width="1" height="1" fill="#56b463"/>
<rect x="327" y="78" width="1" height="1" fill="#7fc143"/>
<rect x="328" y="78" width="1" height="1" fill="#56b463"/>
<rect x="329" y="78" width="1" height="1" fill="#45a1a3"/>
<rect x="330" y="78" width="1" height="1" fill="#429dad" fill-opacity="0.57"/>
<rect x="331" y="78" width="1" height="1" fill="#2e52b1" fill-opacity="0.64"/>
<rect x="332" y="78" width="1" height="1" fill="#3651b5"/>
<rect x="333" y="78" width="1" height="1" fill="#2d4caf" fill-opacity="0.55"/>
<rect x="334" y="78" width="1" height="1" fill="#324eb2" fill-opacity="0.67"/>
<rect x="336" y="78" width="1" height="1" fill="#4b62c6" fill-opacity="0.37"/>
<rect x="338" y="78" width="1" height="1" fill="#586cce" fill-opacity="0.46"/>
<rect x="282" y="79" width="1" height="1" fill="#304db1" fill-opacity="0.51"/>
<rect x="285" y="79" width="1" height="1" fill="#55b463"/>
<rect x="286" y="79" width="1" height="1" fill="#4fad78"/>
<rect x="287" y="79" width="1" height="1" fill="#d5ce24"/>
<rect x="288" y="79" width="1" height="1" fill="#ebd11f"/>
<rect x="289" y="79" width="1" height="1" fill="#c6cd27"/>
<rect x="290" y="79" width="1" height="1" fill="#b2ca2c"/>
<rect x="291" y="79" width="1" height="1" fill="#6aba53"/>
<rect x="292" y="79" width="1" height="1" fill="#60b75b"/>
<rect x="293" y="79" width="1" height="1" fill="#3e98be" fill-opacity="0.93"/>
<rect x="294" y="79" width="1" height="1" fill="#377fc0" fill-opacity="0.61"/>
<rect x="298" y="79" width="1" height="1" fill="#3f58bc" fill-opacity="0.55"/>
<rect x="312" y="79" width="1" height="1" fill="#5065c9" fill-opacity="0.54"/>
<rect x="314" y="79" width="1" height="1" fill="#425bbf" fill-opacity="0.50"/>
<rect x="315" y="79" width="1" height="1" fill="#305cb4" fill-opacity="0.64"/>
<rect x="316" y="79" width="1" height="1" fill="#3d57bb" fill-opacity="0.62"/>
<rect x="317" y="79" width="1" height="1" fill="#305bb4" fill-opacity="0.50"/>
<rect x="318" y="79" width="1" height="1" fill="#2f4cb0" fill-opacity="0.43"/>
<rect x="319" y="79" width="1" height="1" fill="#3652b6" fill-opacity="0.59"/>
<rect x="320" y="79" width="1" height="1" fill="#2d4baf" fill-opacity="0.56"/>
<rect x="321" y="79" width="1" height="1" fill="#3885c2" fill-opacity="0.87"/>
<rect x="322" y="79" width="1" height="1" fill="#4aa78e" fill-opacity="0.83"/>
<rect x="323" y="79" width="1" height="1" fill="#3679be" fill-opacity="0.78"/>
<rect x="324" y="79" width="1" height="1" fill="#3882c1"/>
<rect x="325" y="79" width="1" height="1" fill="#5cb65d"/>
<rect x="326" y="79" width="1" height="1" fill="#51af72"/>
<rect x="327" y="79" width="1" height="1" fill="#48a595" fill-opacity="0.60"/>
<rect x="328" y="79" width="1" height="1" fill="#3576bd"/>
<rect x="329" y="79" width="1" height="1" fill="#4ca986"/>
<rect x="330" y="79" width="1" height="1" fill="#2f59b3" fill-opacity="0.73"/>
<rect x="331" y="79" width="1" height="1" fill="#3f99ba"/>
<rect x="332" y="79" width="1" height="1" fill="#305eb5" fill-opacity="0.74"/>
<rect x="333" y="79" width="1" height="1" fill="#2d4daf" fill-opacity="0.56"/>
<rect x="334" y="79" width="1" height="1" fill="#3f58bc" fill-opacity="0.59"/>
<rect x="336" y="79" width="1" height="1" fill="#586bce" fill-opacity="0.69"/>
<rect x="339" y="79" width="1" height="1" fill="#5f72d1" fill-opacity="0.37"/>
<rect x="340" y="79" width="1" height="1" fill="#4f64c8" fill-opacity="0.53"/>
<rect x="283" y="80" width="1" height="1" fill="#2f4cb0" fill-opacity="0.55"/>
<rect x="284" y="80" width="1" height="1" fill="#449fa7" fill-opacity="0.77"/>
<rect x="285" y="80" width="1" height="1" fill="#cacd26"/>
<rect x="286" y="80" width="1" height="1" fill="#f3b51c"/>
<rect x="287" y="80" width="1" height="1" fill="#dd301c"/>
<rect x="288" y="80" width="1" height="1" fill="#f4c61d"/>
<rect x="289" y="80" width="1" height="1" fill="#ead020"/>
<rect x="290" y="80" width="1" height="1" fill="#d7ce24"/>
<rect x="291" y="80" width="1" height="1" fill="#91c635"/>
<rect x="292" y="80" width="1" height="1" fill="#5ab560" fill-opacity="0.92"/>
<rect x="293" y="80" width="1" height="1" fill="#44a0a5"/>
<rect x="294" y="80" width="1" height="1" fill="#3b93c7" fill-opacity="0.85"/>
<rect x="295" y="80" width="1" height="1" fill="#485fc3" fill-opacity="0.60"/>
<rect x="297" y="80" width="1" height="1" fill="#415abe" fill-opacity="0.38"/>
<rect x="300" y="80" width="1" height="1" fill="#5b6ecf" fill-opacity="0.35"/>
<rect x="301" y="80" width="1" height="1" fill="#6275d2" fill-opacity="0.51"/>
<rect x="303" y="80" width="1" height="1" fill="#3d57bb" fill-opacity="0.50"/>
<rect x="305" y="80" width="1" height="1" fill="#5468cc" fill-opacity="0.51"/>
<rect x="306" y="80" width="1" height="1" fill="#3853b7" fill-opacity="0.78"/>
<rect x="307" y="80" width="1" height="1" fill="#3162b6" fill-opacity="0.46"/>
<rect x="308" y="80" width="1" height="1" fill="#5468cc" fill-opacity="0.46"/>
<rect x="310" y="80" width="1" height="1" fill="#5065c9" fill-opacity="0.43"/>
<rect x="316" y="80" width="1" height="1" fill="#3954b8" fill-opacity="0.58"/>
<rect x="317" y="80" width="1" height="1" fill="#3450b4" fill-opacity="0.63"/>
<rect x="318" y="80" width="1" height="1" fill="#336dba" fill-opacity="0.82"/>
<rect x="319" y="80" width="1" height="1" fill="#305eb5" fill-opacity="0.42"/>
<rect x="320" y="80" width="1" height="1" fill="#2e53b1" fill-opacity="0.75"/>
<rect x="321" y="80" width="1" height="1" fill="#3264b7" fill-opacity="0.55"/>
<rect x="322" y="80" width="1" height="1" fill="#2f57b3" fill-opacity="0.86"/>
<rect x="323" y="80" width="1" height="1" fill="#3d97c3" fill-opacity="0.96"/>
<rect x="324" y="80" width="1" height="1" fill="#346eba" fill-opacity="0.99"/>
<rect x="325" y="80" width="1" height="1" fill="#3988c3"/>
<rect x="326" y="80" width="1" height="1" fill="#419cb2"/>
<rect x="327" y="80" width="1" height="1" fill="#3781c1" fill-opacity="0.65"/>
<rect x="328" y="80" width="1" height="1" fill="#305eb5"/>
<rect x="329" y="80" width="1" height="1" fill="#3885c2" fill-opacity="0.71"/>
<rect x="330" y="80" width="1" height="1" fill="#2f56b2"/>
<rect x="331" y="80" width="1" height="1" fill="#377ec0" fill-opacity="0.59"/>
<rect x="332" y="80" width="1" height="1" fill="#2f58b3" fill-opacity="0.56"/>
<rect x="333" y="80" width="1" height="1" fill="#4c62c6" fill-opacity="0.43"/>
<rect x="337" y="80" width="1" height="1" fill="#4e64c8" fill-opacity="0.54"/>
<rect x="340" y="80" width="1" height="1" fill="#5166ca" fill-opacity="0.46"/>
<rect x="341" y="80" width="1" height="1" fill="#5e71d0" fill-opacity="0.43"/>
<rect x="279" y="81" width="1" height="1" fill="#5e71d0" fill-opacity="0.36"/>
<rect x="281" y="81" width="1" height="1" fill="#3b55b9" fill-opacity="0.68"/>
<rect x="283" y="81" width="1" height="1" fill="#7cc045"/>
<rect x="284" y="81" width="1" height="1" fill="#98c831"/>
<rect x="285" y="81" width="1" height="1" fill="#f3b91c"/>
<rect x="286" y="81" width="1" height="1" fill="#ea641a"/>
<rect x="287" y="81" width="1" height="1" fill="#ea631a"/>
<rect x="288" y="81" width="1" height="1" fill="#e6531a"/>
<rect x="289" y="81" width="1" height="1" fill="#e9601a"/>
<rect x="290" y="81" width="1" height="1" fill="#f3d11e"/>
<rect x="291" y="81" width="1" height="1" fill="#8fc537"/>
<rect x="292" y="81" width="1" height="1" fill="#4eac7c" fill-opacity="0.77"/>
<rect x="293" y="81" width="1" height="1" fill="#3470bb" fill-opacity="0.68"/>
<rect x="294" y="81" width="1" height="1" fill="#3266b8" fill-opacity="0.48"/>
<rect x="295" y="81" width="1" height="1" fill="#3265b7" fill-opacity="0.66"/>
<rect x="296" y="81" width="1" height="1" fill="#3c56ba" fill-opacity="0.66"/>
<rect x="298" y="81" width="1" height="1" fill="#7283d8" fill-opacity="0.41"/>
<rect x="299" y="81" width="1" height="1" fill="#5569cd" fill-opacity="0.55"/>
<rect x="300" y="81" width="1" height="1" fill="#7081d7" fill-opacity="0.53"/>
<rect x="305" y="81" width="1" height="1" fill="#5f72d1" fill-opacity="0.54"/>
<rect x="306" y="81" width="1" height="1" fill="#2f56b2" fill-opacity="0.60"/>
<rect x="308" y="81" width="1" height="1" fill="#5267cb" fill-opacity="0.49"/>
<rect x="309" y="81" width="1" height="1" fill="#5a6dcf" fill-opacity="0.59"/>
<rect x="310" y="81" width="1" height="1" fill="#687ad4" fill-opacity="0.45"/>
<rect x="311" y="81" width="1" height="1" fill="#4d63c7" fill-opacity="0.66"/>
<rect x="314" y="81" width="1" height="1" fill="#2e50b0" fill-opacity="0.85"/>
<rect x="315" y="81" width="1" height="1" fill="#485fc3" fill-opacity="0.51"/>
<rect x="316" y="81" width="1" height="1" fill="#324eb2" fill-opacity="0.52"/>
<rect x="317" y="81" width="1" height="1" fill="#3652b6" fill-opacity="0.55"/>
<rect x="318" y="81" width="1" height="1" fill="#445cc0" fill-opacity="0.54"/>
<rect x="321" y="81" width="1" height="1" fill="#3265b7" fill-opacity="0.89"/>
<rect x="323" y="81" width="1" height="1" fill="#2f58b3" fill-opacity="0.83"/>
<rect x="324" y="81" width="1" height="1" fill="#2f59b3" fill-opacity="0.62"/>
<rect x="325" y="81" width="1" height="1" fill="#3265b7" fill-opacity="0.84"/>
<rect x="326" y="81" width="1" height="1" fill="#3989c3" fill-opacity="0.99"/>
<rect x="327" y="81" width="1" height="1" fill="#4aa68f" fill-opacity="0.63"/>
<rect x="328" y="81" width="1" height="1" fill="#3c96c5"/>
<rect x="329" y="81" width="1" height="1" fill="#2d4daf" fill-opacity="0.75"/>
<rect x="330" y="81" width="1" height="1" fill="#305cb4" fill-opacity="0.43"/>
<rect x="331" y="81" width="1" height="1" fill="#3b55b9" fill-opacity="0.64"/>
<rect x="332" y="81" width="1" height="1" fill="#465ec2" fill-opacity="0.51"/>
<rect x="281" y="82" width="1" height="1" fill="#475ec2" fill-opacity="0.65"/>
<rect x="282" y="82" width="1" height="1" fill="#409bb4" fill-opacity="0.70"/>
<rect x="283" y="82" width="1" height="1" fill="#4fad7a"/>
<rect x="284" y="82" width="1" height="1" fill="#b0ca2c"/>
<rect x="285" y="82" width="1" height="1" fill="#b7cb2a"/>
<rect x="286" y="82" width="1" height="1" fill="#d9221d"/>
<rect x="287" y="82" width="1" height="1" fill="#e7581a"/>
<rect x="288" y="82" width="1" height="1" fill="#ee7119"/>
<rect x="289" y="82" width="1" height="1" fill="#f07b19"/>
<rect x="290" y="82" width="1" height="1" fill="#8dc538"/>
<rect x="291" y="82" width="1" height="1" fill="#4daa82"/>
<rect x="292" y="82" width="1" height="1" fill="#4caa85"/>
<rect x="293" y="82" width="1" height="1" fill="#425bbf" fill-opacity="0.87"/>
<rect x="294" y="82" width="1" height="1" fill="#2f4cb0" fill-opacity="0.50"/>
<rect x="296" y="82" width="1" height="1" fill="#2d4fb0" fill-opacity="0.57"/>
<rect x="299" y="82" width="1" height="1" fill="#2d4eb0" fill-opacity="0.67"/>
<rect x="301" y="82" width="1" height="1" fill="#3954b8" fill-opacity="0.38"/>
<rect x="311" y="82" width="1" height="1" fill="#6073d1" fill-opacity="0.48"/>
<rect x="313" y="82" width="1" height="1" fill="#415abe" fill-opacity="0.59"/>
<rect x="315" y="82" width="1" height="1" fill="#2f4db1" fill-opacity="0.56"/>
<rect x="316" y="82" width="1" height="1" fill="#3853b7" fill-opacity="0.63"/>
<rect x="317" y="82" width="1" height="1" fill="#455dc1" fill-opacity="0.49"/>
<rect x="319" y="82" width="1" height="1" fill="#5267cb" fill-opacity="0.49"/>
<rect x="321" y="82" width="1" height="1" fill="#2f4db1" fill-opacity="0.68"/>
<rect x="322" y="82" width="1" height="1" fill="#4e64c8" fill-opacity="0.56"/>
<rect x="323" y="82" width="1" height="1" fill="#4e64c8" fill-opacity="0.39"/>
<rect x="326" y="82" width="1" height="1" fill="#3652b6" fill-opacity="0.61"/>
<rect x="328" y="82" width="1" height="1" fill="#2d4daf" fill-opacity="0.51"/>
<rect x="329" y="82" width="1" height="1" fill="#3472bc" fill-opacity="0.50"/>
<rect x="330" y="82" width="1" height="1" fill="#3c56ba" fill-opacity="0.43"/>
<rect x="332" y="82" width="1" height="1" fill="#3752b6" fill-opacity="0.49"/>
<rect x="333" y="82" width="1" height="1" fill="#6275d2" fill-opacity="0.36"/>
<rect x="280" y="83" width="1" height="1" fill="#465dc1" fill-opacity="0.45"/>
<rect x="281" y="83" width="1" height="1" fill="#2d4daf" fill-opacity="0.84"/>
<rect x="282" y="83" width="1" height="1" fill="#3884c2" fill-opacity="0.59"/>
<rect x="283" y="83" width="1" height="1" fill="#80c142"/>
<rect x="284" y="83" width="1" height="1" fill="#71bc4d"/>
<rect x="285" y="83" width="1" height="1" fill="#c4cc28"/>
<rect x="286" y="83" width="1" height="1" fill="#dd301c"/>
<rect x="287" y="83" width="1" height="1" fill="#e3481b"/>
<rect x="288" y="83" width="1" height="1" fill="#eb6519"/>
<rect x="289" y="83" width="1" height="1" fill="#b2ca2c"/>
<rect x="290" y="83" width="1" height="1" fill="#8bc43a"/>
<rect x="291" y="83" width="1" height="1" fill="#3576bd" fill-opacity="0.92"/>
<rect x="293" y="83" width="1" height="1" fill="#314eb2" fill-opacity="0.58"/>
<rect x="294" y="83" width="1" height="1" fill="#3651b5" fill-opacity="0.52"/>
<rect x="295" y="83" width="1" height="1" fill="#6477d3" fill-opacity="0.55"/>
<rect x="296" y="83" width="1" height="1" fill="#5065c9" fill-opacity="0.53"/>
<rect x="297" y="83" width="1" height="1" fill="#6073d1" fill-opacity="0.58"/>
<rect x="298" y="83" width="1" height="1" fill="#576bce" fill-opacity="0.41"/>
<rect x="299" y="83" width="1" height="1" fill="#4f64c8" fill-opacity="0.47"/>
<rect x="300" y="83" width="1" height="1" fill="#5468cc" fill-opacity="0.62"/>
<rect x="303" y="83" width="1" height="1" fill="#8191de" fill-opacity="0.60"/>
<rect x="305" y="83" width="1" height="1" fill="#4a61c5" fill-opacity="0.47"/>
<rect x="307" y="83" width="1" height="1" fill="#6779d4" fill-opacity="0.58"/>
<rect x="308" y="83" width="1" height="1" fill="#475fc3" fill-opacity="0.50"/>
<rect x="309" y="83" width="1" height="1" fill="#566acd" fill-opacity="0.46"/>
<rect x="311" y="83" width="1" height="1" fill="#6678d3" fill-opacity="0.39"/>
<rect x="312" y="83" width="1" height="1" fill="#3b55b9" fill-opacity="0.67"/>
<rect x="315" y="83" width="1" height="1" fill="#4a60c4" fill-opacity="0.52"/>
<rect x="316" y="83" width="1" height="1" fill="#3f59bd" fill-opacity="0.55"/>
<rect x="318" y="83" width="1" height="1" fill="#4059bd" fill-opacity="0.52"/>
<rect x="319" y="83" width="1" height="1" fill="#425bbf" fill-opacity="0.53"/>
<rect x="321" y="83" width="1" height="1" fill="#5468cc" fill-opacity="0.53"/>
<rect x="325" y="83" width="1" height="1" fill="#3752b6" fill-opacity="0.57"/>
<rect x="326" y="83" width="1" height="1" fill="#2e50b0" fill-opacity="0.73"/>
<rect x="327" y="83" width="1" height="1" fill="#435cc0" fill-opacity="0.78"/>
<rect x="329" y="83" width="1" height="1" fill="#5367cb" fill-opacity="0.40"/>
<rect x="331" y="83" width="1" height="1" fill="#586cce" fill-opacity="0.53"/>
<rect x="336" y="83" width="1" height="1" fill="#596dce" fill-opacity="0.34"/>
<rect x="281" y="84" width="1" height="1" fill="#2d4daf" fill-opacity="0.65"/>
<rect x="282" y="84" width="1" height="1" fill="#49a592"/>
<rect x="283" y="84" width="1" height="1" fill="#46a29c" fill-opacity="0.94"/>
<rect x="284" y="84" width="1" height="1" fill="#74bd4b"/>
<rect x="285" y="84" width="1" height="1" fill="#f4d01d"/>
<rect x="286" y="84" width="1" height="1" fill="#f18f1a"/>
<rect x="287" y="84" width="1" height="1" fill="#f3be1c"/>
<rect x="288" y="84" width="1" height="1" fill="#83c240"/>
<rect x="289" y="84" width="1" height="1" fill="#6bba52" fill-opacity="0.92"/>
<rect x="290" y="84" width="1" height="1" fill="#439fa8" fill-opacity="0.62"/>
<rect x="291" y="84" width="1" height="1" fill="#2d4baf" fill-opacity="0.51"/>
<rect x="292" y="84" width="1" height="1" fill="#336cba" fill-opacity="0.45"/>
<rect x="295" y="84" width="1" height="1" fill="#455dc1" fill-opacity="0.46"/>
<rect x="296" y="84" width="1" height="1" fill="#5d70d0" fill-opacity="0.46"/>
<rect x="299" y="84" width="1" height="1" fill="#6678d3" fill-opacity="0.64"/>
<rect x="301" y="84" width="1" height="1" fill="#5367cb" fill-opacity="0.45"/>
<rect x="303" y="84" width="1" height="1" fill="#7e8edd" fill-opacity="0.39"/>
<rect x="305" y="84" width="1" height="1" fill="#485fc3" fill-opacity="0.47"/>
<rect x="307" y="84" width="1" height="1" fill="#586cce" fill-opacity="0.46"/>
<rect x="309" y="84" width="1" height="1" fill="#6577d3" fill-opacity="0.67"/>
<rect x="310" y="84" width="1" height="1" fill="#445cc0" fill-opacity="0.47"/>
<rect x="311" y="84" width="1" height="1" fill="#5c6fcf" fill-opacity="0.48"/>
<rect x="312" y="84" width="1" height="1" fill="#4f64c8" fill-opacity="0.66"/>
<rect x="314" y="84" width="1" height="1" fill="#4b62c6" fill-opacity="0.45"/>
<rect x="318" y="84" width="1" height="1" fill="#5b6fcf" fill-opacity="0.56"/>
<rect x="319" y="84" width="1" height="1" fill="#445cc0" fill-opacity="0.48"/>
<rect x="320" y="84" width="1" height="1" fill="#3853b7" fill-opacity="0.47"/>
<rect x="321" y="84" width="1" height="1" fill="#4059bd" fill-opacity="0.35"/>
<rect x="326" y="84" width="1" height="1" fill="#485fc3" fill-opacity="0.42"/>
<rect x="328" y="84" width="1" height="1" fill="#3e58bc" fill-opacity="0.54"/>
<rect x="330" y="84" width="1" height="1" fill="#6a7cd5" fill-opacity="0.45"/>
<rect x="281" y="85" width="1" height="1" fill="#3853b7" fill-opacity="0.47"/>
<rect x="282" y="85" width="1" height="1" fill="#3a8ec5" fill-opacity="0.69"/>
<rect x="283" y="85" width="1" height="1" fill="#336ab9" fill-opacity="0.89"/>
<rect x="284" y="85" width="1" height="1" fill="#49a593"/>
<rect x="285" y="85" width="1" height="1" fill="#67b955"/>
<rect x="286" y="85" width="1" height="1" fill="#63b859" fill-opacity="0.87"/>
<rect x="287" y="85" width="1" height="1" fill="#9bc830"/>
<rect x="288" y="85" width="1" height="1" fill="#48a595"/>
<rect x="290" y="85" width="1" height="1" fill="#2d4baf" fill-opacity="0.56"/>
<rect x="292" y="85" width="1" height="1" fill="#6274d2" fill-opacity="0.37"/>
<rect x="295" y="85" width="1" height="1" fill="#5468cc" fill-opacity="0.51"/>
<rect x="307" y="85" width="1" height="1" fill="#5267cb" fill-opacity="0.52"/>
<rect x="314" y="85" width="1" height="1" fill="#6476d3" fill-opacity="0.40"/>
<rect x="315" y="85" width="1" height="1" fill="#4d63c7" fill-opacity="0.42"/>
<rect x="316" y="85" width="1" height="1" fill="#3954b8" fill-opacity="0.41"/>
<rect x="319" y="85" width="1" height="1" fill="#586cce" fill-opacity="0.55"/>
<rect x="324" y="85" width="1" height="1" fill="#475fc3" fill-opacity="0.43"/>
<rect x="326" y="85" width="1" height="1" fill="#4960c4" fill-opacity="0.51"/>
<rect x="330" y="85" width="1" height="1" fill="#6477d3" fill-opacity="0.49"/>
<rect x="281" y="86" width="1" height="1" fill="#6b7dd6" fill-opacity="0.57"/>
<rect x="283" y="86" width="1" height="1" fill="#455dc1" fill-opacity="0.85"/>
<rect x="287" y="86" width="1" height="1" fill="#3575bd" fill-opacity="0.54"/>
<rect x="288" y="86" width="1" height="1" fill="#2f4cb0" fill-opacity="0.65"/>
<rect x="300" y="86" width="1" height="1" fill="#6073d1" fill-opacity="0.39"/>
<rect x="306" y="86" width="1" height="1" fill="#687ad4" fill-opacity="0.41"/>
<rect x="307" y="86" width="1" height="1" fill="#6073d1" fill-opacity="0.44"/>
<rect x="313" y="86" width="1" height="1" fill="#6d7ed6" fill-opacity="0.44"/>
<rect x="316" y="86" width="1" height="1" fill="#6375d2" fill-opacity="0.43"/>
<rect x="319" y="86" width="1" height="1" fill="#4f65c9" fill-opacity="0.51"/>
<rect x="321" y="86" width="1" height="1" fill="#8494e0" fill-opacity="0.47"/>
<rect x="285" y="87" width="1" height="1" fill="#2d4baf" fill-opacity="0.48"/>
<rect x="306" y="87" width="1" height="1" fill="#586cce" fill-opacity="0.37"/>
<rect x="317" y="87" width="1" height="1" fill="#8292df" fill-opacity="0.62"/>
<rect x="324" y="87" width="1" height="1" fill="#6678d4" fill-opacity="0.33"/>
<rect x="349" y="87" width="1" height="1" fill="#7b8bdc" fill-opacity="0.42"/>
<rect x="283" y="88" width="1" height="1" fill="#6476d3" fill-opacity="0.47"/>
<rect x="314" y="88" width="1" height="1" fill="#6f80d7" fill-opacity="0.40"/>
<rect x="337" y="88" width="1" height="1" fill="#7687da" fill-opacity="0.49"/>
<rect x="282" y="89" width="1" height="1" fill="#7989db" fill-opacity="0.46"/>
</g>
<line x1="259.9" y1="59.2" x2="365.4" y2="59.2" stroke="#2a2a2a" stroke-width="0.9"/>
<line x1="301.2" y1="7.1" x2="301.2" y2="112.1" stroke="#7a7a7a" stroke-width="1"/>
<rect x="259.9" y="7.1" width="105.5" height="105" fill="none" stroke="#111" stroke-width="1.25"/>
<line x1="257.1" y1="32.8" x2="259.9" y2="32.8" stroke="#111" stroke-width="1"/>
<line x1="257.1" y1="65.5" x2="259.9" y2="65.5" stroke="#111" stroke-width="1"/>
<line x1="257.1" y1="83.8" x2="259.9" y2="83.8" stroke="#111" stroke-width="1"/>
<line x1="257.1" y1="104.4" x2="259.9" y2="104.4" stroke="#111" stroke-width="1"/>
<line x1="258.4" y1="22.96" x2="259.9" y2="22.96" stroke="#111" stroke-width="0.7"/>
<line x1="258.4" y1="17.2" x2="259.9" y2="17.2" stroke="#111" stroke-width="0.7"/>
<line x1="258.4" y1="13.11" x2="259.9" y2="13.11" stroke="#111" stroke-width="0.7"/>
<line x1="258.4" y1="9.94" x2="259.9" y2="9.94" stroke="#111" stroke-width="0.7"/>
<line x1="258.4" y1="55.66" x2="259.9" y2="55.66" stroke="#111" stroke-width="0.7"/>
<line x1="258.4" y1="49.9" x2="259.9" y2="49.9" stroke="#111" stroke-width="0.7"/>
<line x1="258.4" y1="45.81" x2="259.9" y2="45.81" stroke="#111" stroke-width="0.7"/>
<line x1="258.4" y1="42.64" x2="259.9" y2="42.64" stroke="#111" stroke-width="0.7"/>
<line x1="258.4" y1="40.05" x2="259.9" y2="40.05" stroke="#111" stroke-width="0.7"/>
<line x1="258.4" y1="37.87" x2="259.9" y2="37.87" stroke="#111" stroke-width="0.7"/>
<line x1="258.4" y1="35.97" x2="259.9" y2="35.97" stroke="#111" stroke-width="0.7"/>
<line x1="258.4" y1="34.3" x2="259.9" y2="34.3" stroke="#111" stroke-width="0.7"/>
<line x1="258.4" y1="81.9" x2="259.9" y2="81.9" stroke="#111" stroke-width="0.7"/>
<line x1="258.4" y1="82.6" x2="259.9" y2="82.6" stroke="#111" stroke-width="0.7"/>
<line x1="258.4" y1="83.2" x2="259.9" y2="83.2" stroke="#111" stroke-width="0.7"/>
<line x1="258.4" y1="84.4" x2="259.9" y2="84.4" stroke="#111" stroke-width="0.7"/>
<line x1="258.4" y1="85" x2="259.9" y2="85" stroke="#111" stroke-width="0.7"/>
<line x1="258.4" y1="85.7" x2="259.9" y2="85.7" stroke="#111" stroke-width="0.7"/>
<line x1="258.4" y1="86.6" x2="259.9" y2="86.6" stroke="#111" stroke-width="0.7"/>
<line x1="258.4" y1="87.6" x2="259.9" y2="87.6" stroke="#111" stroke-width="0.7"/>
<line x1="258.4" y1="79.5" x2="259.9" y2="79.5" stroke="#111" stroke-width="0.7"/>
<line x1="258.4" y1="76" x2="259.9" y2="76" stroke="#111" stroke-width="0.7"/>
<line x1="258.4" y1="72.5" x2="259.9" y2="72.5" stroke="#111" stroke-width="0.7"/>
<line x1="258.4" y1="90.5" x2="259.9" y2="90.5" stroke="#111" stroke-width="0.7"/>
<line x1="258.4" y1="94" x2="259.9" y2="94" stroke="#111" stroke-width="0.7"/>
<line x1="258.4" y1="97.5" x2="259.9" y2="97.5" stroke="#111" stroke-width="0.7"/>
<line x1="258.4" y1="101" x2="259.9" y2="101" stroke="#111" stroke-width="0.7"/>
<line x1="258.4" y1="108.5" x2="259.9" y2="108.5" stroke="#111" stroke-width="0.7"/>
<line x1="267.3" y1="112.1" x2="267.3" y2="114.9" stroke="#111" stroke-width="1"/>
<line x1="283.5" y1="112.1" x2="283.5" y2="114.9" stroke="#111" stroke-width="1"/>
<line x1="300.3" y1="112.1" x2="300.3" y2="114.9" stroke="#111" stroke-width="1"/>
<line x1="328.5" y1="112.1" x2="328.5" y2="114.9" stroke="#111" stroke-width="1"/>
<line x1="356.2" y1="112.1" x2="356.2" y2="114.9" stroke="#111" stroke-width="1"/>
<line x1="308.73" y1="112.1" x2="308.73" y2="113.6" stroke="#111" stroke-width="0.7"/>
<line x1="313.66" y1="112.1" x2="313.66" y2="113.6" stroke="#111" stroke-width="0.7"/>
<line x1="317.16" y1="112.1" x2="317.16" y2="113.6" stroke="#111" stroke-width="0.7"/>
<line x1="319.87" y1="112.1" x2="319.87" y2="113.6" stroke="#111" stroke-width="0.7"/>
<line x1="322.09" y1="112.1" x2="322.09" y2="113.6" stroke="#111" stroke-width="0.7"/>
<line x1="323.96" y1="112.1" x2="323.96" y2="113.6" stroke="#111" stroke-width="0.7"/>
<line x1="325.59" y1="112.1" x2="325.59" y2="113.6" stroke="#111" stroke-width="0.7"/>
<line x1="327.02" y1="112.1" x2="327.02" y2="113.6" stroke="#111" stroke-width="0.7"/>
<line x1="336.93" y1="112.1" x2="336.93" y2="113.6" stroke="#111" stroke-width="0.7"/>
<line x1="341.86" y1="112.1" x2="341.86" y2="113.6" stroke="#111" stroke-width="0.7"/>
<line x1="345.36" y1="112.1" x2="345.36" y2="113.6" stroke="#111" stroke-width="0.7"/>
<line x1="348.07" y1="112.1" x2="348.07" y2="113.6" stroke="#111" stroke-width="0.7"/>
<line x1="350.29" y1="112.1" x2="350.29" y2="113.6" stroke="#111" stroke-width="0.7"/>
<line x1="352.16" y1="112.1" x2="352.16" y2="113.6" stroke="#111" stroke-width="0.7"/>
<line x1="353.79" y1="112.1" x2="353.79" y2="113.6" stroke="#111" stroke-width="0.7"/>
<line x1="355.22" y1="112.1" x2="355.22" y2="113.6" stroke="#111" stroke-width="0.7"/>
<line x1="364.63" y1="112.1" x2="364.63" y2="113.6" stroke="#111" stroke-width="0.7"/>
<line x1="280.5" y1="112.1" x2="280.5" y2="113.6" stroke="#111" stroke-width="0.7"/>
<line x1="281.5" y1="112.1" x2="281.5" y2="113.6" stroke="#111" stroke-width="0.7"/>
<line x1="282.3" y1="112.1" x2="282.3" y2="113.6" stroke="#111" stroke-width="0.7"/>
<line x1="284.7" y1="112.1" x2="284.7" y2="113.6" stroke="#111" stroke-width="0.7"/>
<line x1="285.5" y1="112.1" x2="285.5" y2="113.6" stroke="#111" stroke-width="0.7"/>
<line x1="286.5" y1="112.1" x2="286.5" y2="113.6" stroke="#111" stroke-width="0.7"/>
<line x1="277.5" y1="112.1" x2="277.5" y2="113.6" stroke="#111" stroke-width="0.7"/>
<line x1="273.5" y1="112.1" x2="273.5" y2="113.6" stroke="#111" stroke-width="0.7"/>
<line x1="270.5" y1="112.1" x2="270.5" y2="113.6" stroke="#111" stroke-width="0.7"/>
<line x1="289.5" y1="112.1" x2="289.5" y2="113.6" stroke="#111" stroke-width="0.7"/>
<line x1="292.5" y1="112.1" x2="292.5" y2="113.6" stroke="#111" stroke-width="0.7"/>
<line x1="295.5" y1="112.1" x2="295.5" y2="113.6" stroke="#111" stroke-width="0.7"/>
<line x1="263.5" y1="112.1" x2="263.5" y2="113.6" stroke="#111" stroke-width="0.7"/>
<text x="253.8" y="35.6" font-size="7.4" text-anchor="end" fill="#222">10<tspan font-size="4.6" dy="-3">4</tspan></text>
<text x="253.8" y="68.3" font-size="7.4" text-anchor="end" fill="#222">10<tspan font-size="4.6" dy="-3">3</tspan></text>
<text x="253.6" y="86.6" font-size="7.4" text-anchor="end" fill="#222">0</text>
<text x="253.8" y="108.6" font-size="7.4" text-anchor="end" fill="#222">&#8209;10<tspan font-size="4.6" dy="-3">3</tspan></text>
<text x="267" y="125.5" font-size="7.4" text-anchor="middle" fill="#222">&#8209;10<tspan font-size="4.6" dy="-3">3</tspan></text>
<text x="283.3" y="125.5" font-size="7.4" text-anchor="middle" fill="#222">0</text>
<text x="300.8" y="125.5" font-size="7.4" text-anchor="middle" fill="#222">10<tspan font-size="4.6" dy="-3">3</tspan></text>
<text x="329.8" y="125.5" font-size="7.4" text-anchor="middle" fill="#222">10<tspan font-size="4.6" dy="-3">4</tspan></text>
<text x="356.5" y="125.5" font-size="7.4" text-anchor="middle" fill="#222">10<tspan font-size="4.6" dy="-3">5</tspan></text>
<text transform="translate(236.3 60) rotate(-90)" font-size="9.4" text-anchor="middle" font-weight="bold" textLength="14" lengthAdjust="spacingAndGlyphs" class="c">DAPI</text>
<text x="312.4" y="139" font-size="9" text-anchor="middle" textLength="57.8" lengthAdjust="spacingAndGlyphs" class="c">Annexin V-Alexa647</text>
<text x="261.3" y="13.7" font-size="7.1" fill="#222">Q1</text>
<text x="261.3" y="22.3" font-size="7.1" fill="#222">0.19</text>
<text x="360.6" y="13.7" font-size="7.1" text-anchor="end" fill="#222">Q2</text>
<text x="360.6" y="22.4" font-size="7.1" text-anchor="end" fill="#222">12.0</text>
<text x="261.4" y="98.6" font-size="7.1" fill="#222">Q4</text>
<text x="261.4" y="108.2" font-size="7.1" fill="#222">61.4</text>
<text x="360.3" y="99.2" font-size="7.1" text-anchor="end" fill="#222">Q3</text>
<text x="360.3" y="108.4" font-size="7.1" text-anchor="end" fill="#222">26.4</text>
<rect x="0.5" y="0.5" width="519" height="672" fill="none" stroke="#000" stroke-width="1"/>
</svg>
</body></html>
